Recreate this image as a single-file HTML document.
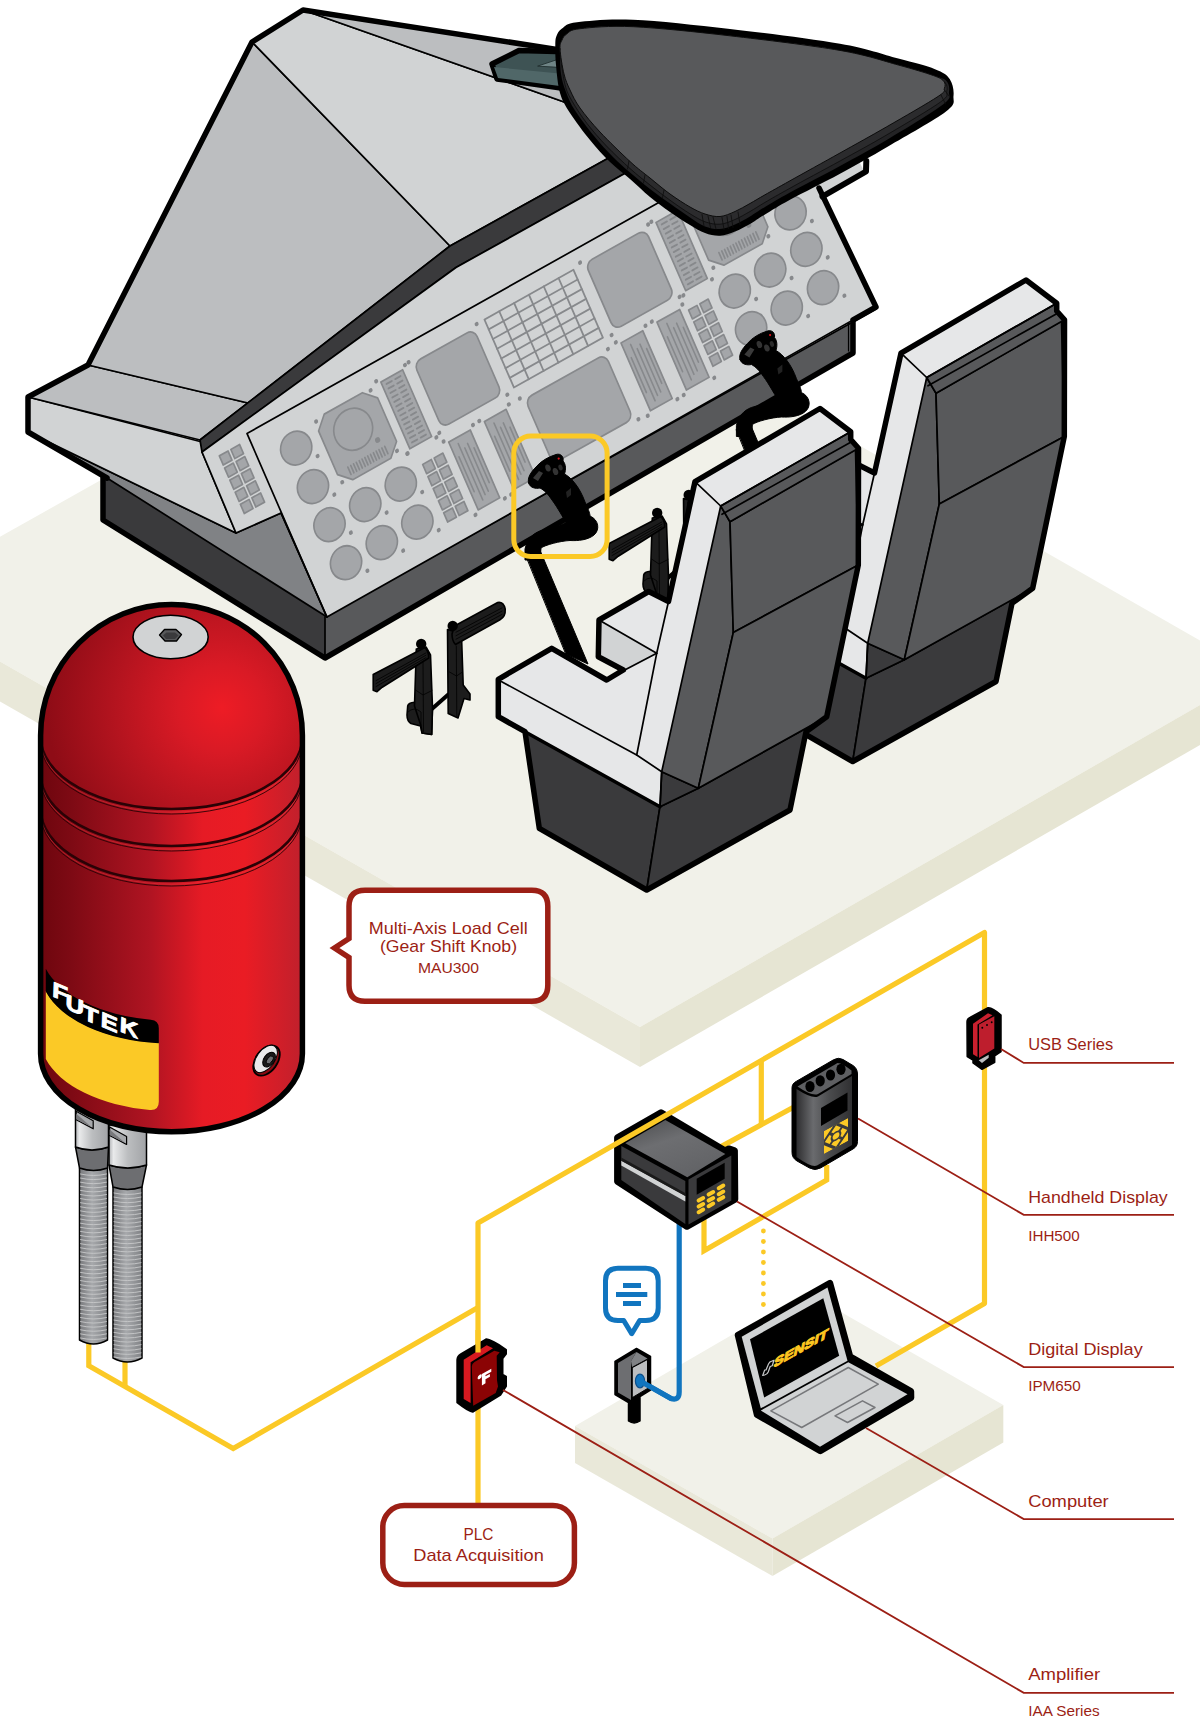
<!DOCTYPE html>
<html><head><meta charset="utf-8"><title>Multi-Axis Load Cell - Flight Simulator</title>
<style>
html,body{margin:0;padding:0;background:#fff;}
body{width:1200px;height:1728px;overflow:hidden;font-family:"Liberation Sans",sans-serif;}
svg{display:block;}
text{font-family:"Liberation Sans",sans-serif;}
</style></head><body>
<svg width="1200" height="1728" viewBox="0 0 1200 1728" stroke-linejoin="round" stroke-linecap="round">
<g id="floor">
<polygon points="0.0,536.8 514.0,247.6 856.0,443.5 1200.0,640.6 1200.0,705.0 640.0,1027.0 0.0,661.5" fill="#f1f1e9" stroke="none" stroke-width="0" />
<polygon points="0.0,661.5 640.0,1027.0 640.0,1067.0 0.0,701.5" fill="#e9e8d9" stroke="none" stroke-width="0" />
<polygon points="640.0,1027.0 1200.0,705.0 1200.0,745.0 640.0,1067.0" fill="#e6e5d3" stroke="none" stroke-width="0" />
</g>
<g id="cockpit">
<polygon points="103.0,474.0 328.0,613.0 325.0,658.0 103.0,520.0" fill="#3a3a3c" stroke="#000" stroke-width="1.7" />
<polygon points="325.0,617.0 876.0,309.0 853.0,320.0 853.0,352.0 325.0,658.0" fill="#58595b" stroke="#000" stroke-width="1.7" />
<polyline points="848.5,323.0 848.5,351.0" fill="none" stroke="#000" stroke-width="1.2" />
<polyline points="103.0,478.0 103.0,520.0 325.0,658.0 853.0,353.0 853.0,322.0" fill="none" stroke="#000" stroke-width="5.5" />
<polygon points="28.0,432.0 107.0,478.0 327.0,617.0 281.0,513.0 236.0,533.0" fill="#808285" stroke="#000" stroke-width="1.7" />
<polygon points="28.0,397.0 202.0,442.0 202.0,452.0 236.0,533.0 28.0,432.0" fill="#d1d3d4" stroke="#000" stroke-width="1.7" />
<polygon points="88.0,365.0 248.0,403.0 200.0,440.0 28.0,397.0" fill="#bcbec0" stroke="#000" stroke-width="1.7" />
<polygon points="252.0,42.0 450.0,246.0 248.0,403.0 88.0,365.0" fill="#bcbec0" stroke="#000" stroke-width="1.7" />
<polygon points="252.0,42.0 303.0,10.0 567.0,103.0 640.0,140.0 605.0,160.0 450.0,246.0" fill="#d1d3d4" stroke="#000" stroke-width="1.7" />
<polygon points="303.0,10.0 560.0,50.0 600.0,110.0 567.0,103.0" fill="#bcbec0" stroke="#000" stroke-width="1.7" />
<polygon points="200.0,440.0 450.0,246.0 605.0,160.0 660.0,130.0 680.0,143.0 622.0,175.0 456.0,267.5 202.0,452.0" fill="#3a3a3c" stroke="#000" stroke-width="1.7" />
<polygon points="202.0,452.0 456.0,267.5 622.0,175.0 760.0,100.0 796.0,125.0 819.0,188.0 876.0,307.0 327.0,617.0 281.0,513.0 236.0,533.0" fill="#d1d3d4" stroke="#000" stroke-width="1.7" />
<polygon points="815.0,181.0 857.0,157.0 863.5,170.0 822.5,195.0" fill="#d1d3d4" stroke="none" stroke-width="0" />
<polyline points="822.5,196.5 866.0,171.5 866.3,161.0" fill="none" stroke="#000" stroke-width="6" />
<polyline points="107.0,478.0 28.0,432.0 28.0,397.0 88.0,365.0 252.0,42.0 303.0,10.0 560.0,50.0" fill="none" stroke="#000" stroke-width="5.5" />
<polyline points="819.0,188.0 876.0,307.0 853.0,320.0" fill="none" stroke="#000" stroke-width="5.5" />
</g>
<g id="panel" transform="matrix(0.87213,-0.48928,0.39873,0.91707,247,433.5)">
<polyline points="630,0 0,0 0,200" fill="none" stroke="#000" stroke-width="1.7"/>
<circle cx="39.5" cy="37.0" r="16.3" fill="#a4a6a9" stroke="#87898c" stroke-width="1.7"/>
<circle cx="56.0" cy="54.5" r="2.1" fill="#87898c"/>
<circle cx="39.5" cy="79.0" r="16.3" fill="#a4a6a9" stroke="#87898c" stroke-width="1.7"/>
<circle cx="56.0" cy="96.5" r="2.1" fill="#87898c"/>
<circle cx="39.5" cy="120.5" r="16.3" fill="#a4a6a9" stroke="#87898c" stroke-width="1.7"/>
<circle cx="56.0" cy="138.0" r="2.1" fill="#87898c"/>
<circle cx="39.5" cy="162.0" r="16.3" fill="#a4a6a9" stroke="#87898c" stroke-width="1.7"/>
<circle cx="56.0" cy="179.5" r="2.1" fill="#87898c"/>
<circle cx="80.5" cy="120.5" r="16.3" fill="#a4a6a9" stroke="#87898c" stroke-width="1.7"/>
<circle cx="97.0" cy="138.0" r="2.1" fill="#87898c"/>
<circle cx="80.5" cy="162.0" r="16.3" fill="#a4a6a9" stroke="#87898c" stroke-width="1.7"/>
<circle cx="97.0" cy="179.5" r="2.1" fill="#87898c"/>
<circle cx="121.5" cy="120.0" r="16.3" fill="#a4a6a9" stroke="#87898c" stroke-width="1.7"/>
<circle cx="138.0" cy="137.5" r="2.1" fill="#87898c"/>
<circle cx="121.5" cy="161.5" r="16.3" fill="#a4a6a9" stroke="#87898c" stroke-width="1.7"/>
<circle cx="138.0" cy="179.0" r="2.1" fill="#87898c"/>
<polygon points="79.0,21.0 122.7,21.0 134.7,33.0 134.7,80.5 122.7,92.5 79.0,92.5 67.0,80.5 67.0,33.0" fill="#a4a6a9" stroke="#87898c" stroke-width="1.7"/>
<circle cx="99.6" cy="48.5" r="20.3" fill="none" stroke="#87898c" stroke-width="1.7"/>
<circle cx="117.8" cy="70.0" r="2.7" fill="#87898c"/>
<line x1="79.5" y1="79.0" x2="79.5" y2="87.0" stroke="#87898c" stroke-width="1.7" stroke-linecap="round"/>
<line x1="82.8" y1="79.0" x2="82.8" y2="87.0" stroke="#87898c" stroke-width="1.7" stroke-linecap="round"/>
<line x1="86.0" y1="79.0" x2="86.0" y2="87.0" stroke="#87898c" stroke-width="1.7" stroke-linecap="round"/>
<line x1="89.2" y1="79.0" x2="89.2" y2="87.0" stroke="#87898c" stroke-width="1.7" stroke-linecap="round"/>
<line x1="92.5" y1="79.0" x2="92.5" y2="87.0" stroke="#87898c" stroke-width="1.7" stroke-linecap="round"/>
<line x1="95.8" y1="79.0" x2="95.8" y2="87.0" stroke="#87898c" stroke-width="1.7" stroke-linecap="round"/>
<line x1="99.0" y1="79.0" x2="99.0" y2="87.0" stroke="#87898c" stroke-width="1.7" stroke-linecap="round"/>
<line x1="102.2" y1="79.0" x2="102.2" y2="87.0" stroke="#87898c" stroke-width="1.7" stroke-linecap="round"/>
<line x1="105.5" y1="79.0" x2="105.5" y2="87.0" stroke="#87898c" stroke-width="1.7" stroke-linecap="round"/>
<line x1="108.8" y1="79.0" x2="108.8" y2="87.0" stroke="#87898c" stroke-width="1.7" stroke-linecap="round"/>
<line x1="112.0" y1="79.0" x2="112.0" y2="87.0" stroke="#87898c" stroke-width="1.7" stroke-linecap="round"/>
<line x1="115.2" y1="79.0" x2="115.2" y2="87.0" stroke="#87898c" stroke-width="1.7" stroke-linecap="round"/>
<line x1="118.5" y1="79.0" x2="118.5" y2="87.0" stroke="#87898c" stroke-width="1.7" stroke-linecap="round"/>
<line x1="121.8" y1="79.0" x2="121.8" y2="87.0" stroke="#87898c" stroke-width="1.7" stroke-linecap="round"/>
<circle cx="68.5" cy="23.5" r="2.1" fill="#87898c"/>
<circle cx="131.2" cy="23.0" r="2.1" fill="#87898c"/>
<circle cx="68.3" cy="89.5" r="2.1" fill="#87898c"/>
<circle cx="131.3" cy="89.0" r="2.1" fill="#87898c"/>
<circle cx="139.7" cy="96.5" r="2.1" fill="#87898c"/>
<rect x="144.0" y="20.7" width="25.0" height="72.8" fill="#a4a6a9" stroke="#87898c" stroke-width="1.7"/>
<line x1="148.5" y1="25.2" x2="154.5" y2="25.2" stroke="#87898c" stroke-width="1.9" stroke-linecap="round"/>
<line x1="158.5" y1="25.2" x2="164.5" y2="25.2" stroke="#87898c" stroke-width="1.9" stroke-linecap="round"/>
<line x1="148.5" y1="30.1" x2="154.5" y2="30.1" stroke="#87898c" stroke-width="1.9" stroke-linecap="round"/>
<line x1="158.5" y1="30.1" x2="164.5" y2="30.1" stroke="#87898c" stroke-width="1.9" stroke-linecap="round"/>
<line x1="148.5" y1="35.0" x2="154.5" y2="35.0" stroke="#87898c" stroke-width="1.9" stroke-linecap="round"/>
<line x1="158.5" y1="35.0" x2="164.5" y2="35.0" stroke="#87898c" stroke-width="1.9" stroke-linecap="round"/>
<line x1="148.5" y1="39.9" x2="154.5" y2="39.9" stroke="#87898c" stroke-width="1.9" stroke-linecap="round"/>
<line x1="158.5" y1="39.9" x2="164.5" y2="39.9" stroke="#87898c" stroke-width="1.9" stroke-linecap="round"/>
<line x1="148.5" y1="44.8" x2="154.5" y2="44.8" stroke="#87898c" stroke-width="1.9" stroke-linecap="round"/>
<line x1="158.5" y1="44.8" x2="164.5" y2="44.8" stroke="#87898c" stroke-width="1.9" stroke-linecap="round"/>
<line x1="148.5" y1="49.7" x2="154.5" y2="49.7" stroke="#87898c" stroke-width="1.9" stroke-linecap="round"/>
<line x1="158.5" y1="49.7" x2="164.5" y2="49.7" stroke="#87898c" stroke-width="1.9" stroke-linecap="round"/>
<line x1="148.5" y1="54.6" x2="154.5" y2="54.6" stroke="#87898c" stroke-width="1.9" stroke-linecap="round"/>
<line x1="158.5" y1="54.6" x2="164.5" y2="54.6" stroke="#87898c" stroke-width="1.9" stroke-linecap="round"/>
<line x1="148.5" y1="59.6" x2="154.5" y2="59.6" stroke="#87898c" stroke-width="1.9" stroke-linecap="round"/>
<line x1="158.5" y1="59.6" x2="164.5" y2="59.6" stroke="#87898c" stroke-width="1.9" stroke-linecap="round"/>
<line x1="148.5" y1="64.5" x2="154.5" y2="64.5" stroke="#87898c" stroke-width="1.9" stroke-linecap="round"/>
<line x1="158.5" y1="64.5" x2="164.5" y2="64.5" stroke="#87898c" stroke-width="1.9" stroke-linecap="round"/>
<line x1="148.5" y1="69.4" x2="154.5" y2="69.4" stroke="#87898c" stroke-width="1.9" stroke-linecap="round"/>
<line x1="158.5" y1="69.4" x2="164.5" y2="69.4" stroke="#87898c" stroke-width="1.9" stroke-linecap="round"/>
<line x1="148.5" y1="74.3" x2="154.5" y2="74.3" stroke="#87898c" stroke-width="1.9" stroke-linecap="round"/>
<line x1="158.5" y1="74.3" x2="164.5" y2="74.3" stroke="#87898c" stroke-width="1.9" stroke-linecap="round"/>
<line x1="148.5" y1="79.2" x2="154.5" y2="79.2" stroke="#87898c" stroke-width="1.9" stroke-linecap="round"/>
<line x1="158.5" y1="79.2" x2="164.5" y2="79.2" stroke="#87898c" stroke-width="1.9" stroke-linecap="round"/>
<line x1="148.5" y1="84.1" x2="154.5" y2="84.1" stroke="#87898c" stroke-width="1.9" stroke-linecap="round"/>
<line x1="158.5" y1="84.1" x2="164.5" y2="84.1" stroke="#87898c" stroke-width="1.9" stroke-linecap="round"/>
<line x1="148.5" y1="89.0" x2="154.5" y2="89.0" stroke="#87898c" stroke-width="1.9" stroke-linecap="round"/>
<line x1="158.5" y1="89.0" x2="164.5" y2="89.0" stroke="#87898c" stroke-width="1.9" stroke-linecap="round"/>
<circle cx="140.0" cy="17.7" r="2.1" fill="#87898c"/>
<circle cx="173.0" cy="17.7" r="2.1" fill="#87898c"/>
<circle cx="140.0" cy="96.5" r="2.1" fill="#87898c"/>
<circle cx="173.0" cy="96.5" r="2.1" fill="#87898c"/>
<rect x="149.5" y="113.5" width="10.0" height="10.0" fill="#a4a6a9" stroke="#87898c" stroke-width="1.7"/>
<rect x="149.5" y="126.7" width="10.0" height="10.0" fill="#a4a6a9" stroke="#87898c" stroke-width="1.7"/>
<rect x="149.5" y="139.9" width="10.0" height="10.0" fill="#a4a6a9" stroke="#87898c" stroke-width="1.7"/>
<rect x="149.5" y="153.1" width="10.0" height="10.0" fill="#a4a6a9" stroke="#87898c" stroke-width="1.7"/>
<rect x="149.5" y="166.3" width="10.0" height="10.0" fill="#a4a6a9" stroke="#87898c" stroke-width="1.7"/>
<rect x="162.7" y="113.5" width="10.0" height="10.0" fill="#a4a6a9" stroke="#87898c" stroke-width="1.7"/>
<rect x="162.7" y="126.7" width="10.0" height="10.0" fill="#a4a6a9" stroke="#87898c" stroke-width="1.7"/>
<rect x="162.7" y="139.9" width="10.0" height="10.0" fill="#a4a6a9" stroke="#87898c" stroke-width="1.7"/>
<rect x="162.7" y="153.1" width="10.0" height="10.0" fill="#a4a6a9" stroke="#87898c" stroke-width="1.7"/>
<rect x="162.7" y="166.3" width="10.0" height="10.0" fill="#a4a6a9" stroke="#87898c" stroke-width="1.7"/>
<rect x="-34.5" y="6.0" width="10.0" height="10.0" fill="#a4a6a9" stroke="#87898c" stroke-width="1.7"/>
<rect x="-34.5" y="19.2" width="10.0" height="10.0" fill="#a4a6a9" stroke="#87898c" stroke-width="1.7"/>
<rect x="-34.5" y="32.4" width="10.0" height="10.0" fill="#a4a6a9" stroke="#87898c" stroke-width="1.7"/>
<rect x="-34.5" y="45.6" width="10.0" height="10.0" fill="#a4a6a9" stroke="#87898c" stroke-width="1.7"/>
<rect x="-34.5" y="58.8" width="10.0" height="10.0" fill="#a4a6a9" stroke="#87898c" stroke-width="1.7"/>
<rect x="-21.3" y="6.0" width="10.0" height="10.0" fill="#a4a6a9" stroke="#87898c" stroke-width="1.7"/>
<rect x="-21.3" y="19.2" width="10.0" height="10.0" fill="#a4a6a9" stroke="#87898c" stroke-width="1.7"/>
<rect x="-21.3" y="32.4" width="10.0" height="10.0" fill="#a4a6a9" stroke="#87898c" stroke-width="1.7"/>
<rect x="-21.3" y="45.6" width="10.0" height="10.0" fill="#a4a6a9" stroke="#87898c" stroke-width="1.7"/>
<rect x="-21.3" y="58.8" width="10.0" height="10.0" fill="#a4a6a9" stroke="#87898c" stroke-width="1.7"/>
<rect x="182.0" y="20.0" width="69.0" height="71.0" rx="8.0" fill="#a4a6a9" stroke="#87898c" stroke-width="1.7"/>
<circle cx="177.5" cy="17.0" r="2.1" fill="#87898c"/>
<circle cx="255.5" cy="17.0" r="2.1" fill="#87898c"/>
<circle cx="177.5" cy="94.0" r="2.1" fill="#87898c"/>
<circle cx="255.5" cy="94.0" r="2.1" fill="#87898c"/>
<rect x="182.5" y="106.7" width="24.7" height="74.0" fill="#a4a6a9" stroke="#87898c" stroke-width="1.7"/>
<line x1="186.1" y1="124.7" x2="186.1" y2="162.7" stroke="#87898c" stroke-width="1.6" stroke-linecap="round"/>
<line x1="190.7" y1="112.7" x2="190.7" y2="174.2" stroke="#87898c" stroke-width="1.6" stroke-linecap="round"/>
<line x1="195.0" y1="119.7" x2="195.0" y2="170.7" stroke="#87898c" stroke-width="1.6" stroke-linecap="round"/>
<line x1="199.3" y1="117.2" x2="199.3" y2="169.2" stroke="#87898c" stroke-width="1.6" stroke-linecap="round"/>
<line x1="203.6" y1="124.2" x2="203.6" y2="162.2" stroke="#87898c" stroke-width="1.6" stroke-linecap="round"/>
<circle cx="178.0" cy="103.7" r="2.1" fill="#87898c"/>
<circle cx="211.7" cy="103.7" r="2.1" fill="#87898c"/>
<circle cx="178.0" cy="183.7" r="2.1" fill="#87898c"/>
<circle cx="211.7" cy="183.7" r="2.1" fill="#87898c"/>
<rect x="223.6" y="106.3" width="24.9" height="74.0" fill="#a4a6a9" stroke="#87898c" stroke-width="1.7"/>
<line x1="227.2" y1="124.3" x2="227.2" y2="162.3" stroke="#87898c" stroke-width="1.6" stroke-linecap="round"/>
<line x1="231.9" y1="112.3" x2="231.9" y2="173.8" stroke="#87898c" stroke-width="1.6" stroke-linecap="round"/>
<line x1="236.2" y1="119.3" x2="236.2" y2="170.3" stroke="#87898c" stroke-width="1.6" stroke-linecap="round"/>
<line x1="240.5" y1="116.8" x2="240.5" y2="168.8" stroke="#87898c" stroke-width="1.6" stroke-linecap="round"/>
<line x1="244.9" y1="123.8" x2="244.9" y2="161.8" stroke="#87898c" stroke-width="1.6" stroke-linecap="round"/>
<circle cx="219.1" cy="103.3" r="2.1" fill="#87898c"/>
<circle cx="253.0" cy="103.3" r="2.1" fill="#87898c"/>
<circle cx="219.1" cy="183.3" r="2.1" fill="#87898c"/>
<circle cx="253.0" cy="183.3" r="2.1" fill="#87898c"/>
<g fill="none" stroke="#87898c" stroke-width="1.8">
<rect x="264.5" y="17" width="102" height="74"/>
<line x1="281.5" y1="17" x2="281.5" y2="91"/>
<line x1="298.5" y1="17" x2="298.5" y2="91"/>
<line x1="315.5" y1="17" x2="315.5" y2="91"/>
<line x1="332.5" y1="17" x2="332.5" y2="91"/>
<line x1="349.5" y1="17" x2="349.5" y2="91"/>
<line x1="264.5" y1="27.6" x2="366.5" y2="27.6"/>
<line x1="264.5" y1="38.1" x2="366.5" y2="38.1"/>
<line x1="264.5" y1="48.7" x2="366.5" y2="48.7"/>
<line x1="264.5" y1="59.3" x2="366.5" y2="59.3"/>
<line x1="264.5" y1="69.9" x2="366.5" y2="69.9"/>
<line x1="264.5" y1="80.4" x2="366.5" y2="80.4"/>
</g>
<rect x="270.0" y="106.5" width="92.0" height="70.5" rx="8.0" fill="#a4a6a9" stroke="#87898c" stroke-width="1.7"/>
<circle cx="265.5" cy="103.5" r="2.1" fill="#87898c"/>
<circle cx="366.5" cy="103.5" r="2.1" fill="#87898c"/>
<circle cx="265.5" cy="180.0" r="2.1" fill="#87898c"/>
<circle cx="366.5" cy="180.0" r="2.1" fill="#87898c"/>
<rect x="380.0" y="17.0" width="69.0" height="73.0" rx="8.0" fill="#a4a6a9" stroke="#87898c" stroke-width="1.7"/>
<circle cx="375.5" cy="14.0" r="2.1" fill="#87898c"/>
<circle cx="453.5" cy="14.0" r="2.1" fill="#87898c"/>
<circle cx="375.5" cy="93.0" r="2.1" fill="#87898c"/>
<circle cx="453.5" cy="93.0" r="2.1" fill="#87898c"/>
<rect x="461.6" y="16.2" width="24.8" height="74.3" fill="#a4a6a9" stroke="#87898c" stroke-width="1.7"/>
<line x1="466.1" y1="20.7" x2="472.1" y2="20.7" stroke="#87898c" stroke-width="1.9" stroke-linecap="round"/>
<line x1="475.9" y1="20.7" x2="481.9" y2="20.7" stroke="#87898c" stroke-width="1.9" stroke-linecap="round"/>
<line x1="466.1" y1="25.7" x2="472.1" y2="25.7" stroke="#87898c" stroke-width="1.9" stroke-linecap="round"/>
<line x1="475.9" y1="25.7" x2="481.9" y2="25.7" stroke="#87898c" stroke-width="1.9" stroke-linecap="round"/>
<line x1="466.1" y1="30.7" x2="472.1" y2="30.7" stroke="#87898c" stroke-width="1.9" stroke-linecap="round"/>
<line x1="475.9" y1="30.7" x2="481.9" y2="30.7" stroke="#87898c" stroke-width="1.9" stroke-linecap="round"/>
<line x1="466.1" y1="35.8" x2="472.1" y2="35.8" stroke="#87898c" stroke-width="1.9" stroke-linecap="round"/>
<line x1="475.9" y1="35.8" x2="481.9" y2="35.8" stroke="#87898c" stroke-width="1.9" stroke-linecap="round"/>
<line x1="466.1" y1="40.8" x2="472.1" y2="40.8" stroke="#87898c" stroke-width="1.9" stroke-linecap="round"/>
<line x1="475.9" y1="40.8" x2="481.9" y2="40.8" stroke="#87898c" stroke-width="1.9" stroke-linecap="round"/>
<line x1="466.1" y1="45.8" x2="472.1" y2="45.8" stroke="#87898c" stroke-width="1.9" stroke-linecap="round"/>
<line x1="475.9" y1="45.8" x2="481.9" y2="45.8" stroke="#87898c" stroke-width="1.9" stroke-linecap="round"/>
<line x1="466.1" y1="50.8" x2="472.1" y2="50.8" stroke="#87898c" stroke-width="1.9" stroke-linecap="round"/>
<line x1="475.9" y1="50.8" x2="481.9" y2="50.8" stroke="#87898c" stroke-width="1.9" stroke-linecap="round"/>
<line x1="466.1" y1="55.9" x2="472.1" y2="55.9" stroke="#87898c" stroke-width="1.9" stroke-linecap="round"/>
<line x1="475.9" y1="55.9" x2="481.9" y2="55.9" stroke="#87898c" stroke-width="1.9" stroke-linecap="round"/>
<line x1="466.1" y1="60.9" x2="472.1" y2="60.9" stroke="#87898c" stroke-width="1.9" stroke-linecap="round"/>
<line x1="475.9" y1="60.9" x2="481.9" y2="60.9" stroke="#87898c" stroke-width="1.9" stroke-linecap="round"/>
<line x1="466.1" y1="65.9" x2="472.1" y2="65.9" stroke="#87898c" stroke-width="1.9" stroke-linecap="round"/>
<line x1="475.9" y1="65.9" x2="481.9" y2="65.9" stroke="#87898c" stroke-width="1.9" stroke-linecap="round"/>
<line x1="466.1" y1="70.9" x2="472.1" y2="70.9" stroke="#87898c" stroke-width="1.9" stroke-linecap="round"/>
<line x1="475.9" y1="70.9" x2="481.9" y2="70.9" stroke="#87898c" stroke-width="1.9" stroke-linecap="round"/>
<line x1="466.1" y1="76.0" x2="472.1" y2="76.0" stroke="#87898c" stroke-width="1.9" stroke-linecap="round"/>
<line x1="475.9" y1="76.0" x2="481.9" y2="76.0" stroke="#87898c" stroke-width="1.9" stroke-linecap="round"/>
<line x1="466.1" y1="81.0" x2="472.1" y2="81.0" stroke="#87898c" stroke-width="1.9" stroke-linecap="round"/>
<line x1="475.9" y1="81.0" x2="481.9" y2="81.0" stroke="#87898c" stroke-width="1.9" stroke-linecap="round"/>
<line x1="466.1" y1="86.0" x2="472.1" y2="86.0" stroke="#87898c" stroke-width="1.9" stroke-linecap="round"/>
<line x1="475.9" y1="86.0" x2="481.9" y2="86.0" stroke="#87898c" stroke-width="1.9" stroke-linecap="round"/>
<circle cx="457.6" cy="13.2" r="2.1" fill="#87898c"/>
<circle cx="490.4" cy="13.2" r="2.1" fill="#87898c"/>
<circle cx="457.6" cy="93.5" r="2.1" fill="#87898c"/>
<circle cx="490.4" cy="93.5" r="2.1" fill="#87898c"/>
<rect x="381.0" y="104.5" width="25.0" height="74.0" fill="#a4a6a9" stroke="#87898c" stroke-width="1.7"/>
<line x1="384.6" y1="122.5" x2="384.6" y2="160.5" stroke="#87898c" stroke-width="1.6" stroke-linecap="round"/>
<line x1="389.3" y1="110.5" x2="389.3" y2="172.0" stroke="#87898c" stroke-width="1.6" stroke-linecap="round"/>
<line x1="393.7" y1="117.5" x2="393.7" y2="168.5" stroke="#87898c" stroke-width="1.6" stroke-linecap="round"/>
<line x1="398.0" y1="115.0" x2="398.0" y2="167.0" stroke="#87898c" stroke-width="1.6" stroke-linecap="round"/>
<line x1="402.4" y1="122.0" x2="402.4" y2="160.0" stroke="#87898c" stroke-width="1.6" stroke-linecap="round"/>
<circle cx="376.5" cy="101.5" r="2.1" fill="#87898c"/>
<circle cx="410.5" cy="101.5" r="2.1" fill="#87898c"/>
<circle cx="376.5" cy="181.5" r="2.1" fill="#87898c"/>
<circle cx="410.5" cy="181.5" r="2.1" fill="#87898c"/>
<rect x="422.5" y="104.0" width="26.0" height="74.0" fill="#a4a6a9" stroke="#87898c" stroke-width="1.7"/>
<line x1="426.3" y1="122.0" x2="426.3" y2="160.0" stroke="#87898c" stroke-width="1.6" stroke-linecap="round"/>
<line x1="431.1" y1="110.0" x2="431.1" y2="171.5" stroke="#87898c" stroke-width="1.6" stroke-linecap="round"/>
<line x1="435.7" y1="117.0" x2="435.7" y2="168.0" stroke="#87898c" stroke-width="1.6" stroke-linecap="round"/>
<line x1="440.2" y1="114.5" x2="440.2" y2="166.5" stroke="#87898c" stroke-width="1.6" stroke-linecap="round"/>
<line x1="444.7" y1="121.5" x2="444.7" y2="159.5" stroke="#87898c" stroke-width="1.6" stroke-linecap="round"/>
<circle cx="418.0" cy="101.0" r="2.1" fill="#87898c"/>
<circle cx="453.0" cy="101.0" r="2.1" fill="#87898c"/>
<circle cx="418.0" cy="181.0" r="2.1" fill="#87898c"/>
<circle cx="453.0" cy="181.0" r="2.1" fill="#87898c"/>
<rect x="456.5" y="109.0" width="9.6" height="9.6" fill="#a4a6a9" stroke="#87898c" stroke-width="1.7"/>
<rect x="456.5" y="121.9" width="9.6" height="9.6" fill="#a4a6a9" stroke="#87898c" stroke-width="1.7"/>
<rect x="456.5" y="134.8" width="9.6" height="9.6" fill="#a4a6a9" stroke="#87898c" stroke-width="1.7"/>
<rect x="456.5" y="147.7" width="9.6" height="9.6" fill="#a4a6a9" stroke="#87898c" stroke-width="1.7"/>
<rect x="456.5" y="160.6" width="9.6" height="9.6" fill="#a4a6a9" stroke="#87898c" stroke-width="1.7"/>
<rect x="469.4" y="109.0" width="9.6" height="9.6" fill="#a4a6a9" stroke="#87898c" stroke-width="1.7"/>
<rect x="469.4" y="121.9" width="9.6" height="9.6" fill="#a4a6a9" stroke="#87898c" stroke-width="1.7"/>
<rect x="469.4" y="134.8" width="9.6" height="9.6" fill="#a4a6a9" stroke="#87898c" stroke-width="1.7"/>
<rect x="469.4" y="147.7" width="9.6" height="9.6" fill="#a4a6a9" stroke="#87898c" stroke-width="1.7"/>
<rect x="469.4" y="160.6" width="9.6" height="9.6" fill="#a4a6a9" stroke="#87898c" stroke-width="1.7"/>
<polygon points="507.0,15.0 551.0,15.0 563.0,27.0 563.0,75.0 551.0,87.0 507.0,87.0 495.0,75.0 495.0,27.0" fill="#a4a6a9" stroke="#87898c" stroke-width="1.7"/>
<circle cx="527.8" cy="42.5" r="20.3" fill="none" stroke="#87898c" stroke-width="1.7"/>
<circle cx="546.0" cy="64.0" r="2.7" fill="#87898c"/>
<line x1="507.5" y1="73.5" x2="507.5" y2="81.5" stroke="#87898c" stroke-width="1.7" stroke-linecap="round"/>
<line x1="510.8" y1="73.5" x2="510.8" y2="81.5" stroke="#87898c" stroke-width="1.7" stroke-linecap="round"/>
<line x1="514.0" y1="73.5" x2="514.0" y2="81.5" stroke="#87898c" stroke-width="1.7" stroke-linecap="round"/>
<line x1="517.2" y1="73.5" x2="517.2" y2="81.5" stroke="#87898c" stroke-width="1.7" stroke-linecap="round"/>
<line x1="520.5" y1="73.5" x2="520.5" y2="81.5" stroke="#87898c" stroke-width="1.7" stroke-linecap="round"/>
<line x1="523.8" y1="73.5" x2="523.8" y2="81.5" stroke="#87898c" stroke-width="1.7" stroke-linecap="round"/>
<line x1="527.0" y1="73.5" x2="527.0" y2="81.5" stroke="#87898c" stroke-width="1.7" stroke-linecap="round"/>
<line x1="530.2" y1="73.5" x2="530.2" y2="81.5" stroke="#87898c" stroke-width="1.7" stroke-linecap="round"/>
<line x1="533.5" y1="73.5" x2="533.5" y2="81.5" stroke="#87898c" stroke-width="1.7" stroke-linecap="round"/>
<line x1="536.8" y1="73.5" x2="536.8" y2="81.5" stroke="#87898c" stroke-width="1.7" stroke-linecap="round"/>
<line x1="540.0" y1="73.5" x2="540.0" y2="81.5" stroke="#87898c" stroke-width="1.7" stroke-linecap="round"/>
<line x1="543.2" y1="73.5" x2="543.2" y2="81.5" stroke="#87898c" stroke-width="1.7" stroke-linecap="round"/>
<line x1="546.5" y1="73.5" x2="546.5" y2="81.5" stroke="#87898c" stroke-width="1.7" stroke-linecap="round"/>
<line x1="549.8" y1="73.5" x2="549.8" y2="81.5" stroke="#87898c" stroke-width="1.7" stroke-linecap="round"/>
<circle cx="496.5" cy="17.5" r="2.1" fill="#87898c"/>
<circle cx="559.5" cy="17.0" r="2.1" fill="#87898c"/>
<circle cx="496.3" cy="84.0" r="2.1" fill="#87898c"/>
<circle cx="559.6" cy="83.5" r="2.1" fill="#87898c"/>
<circle cx="506.7" cy="115.0" r="16.3" fill="#a4a6a9" stroke="#87898c" stroke-width="1.7"/>
<circle cx="523.2" cy="132.5" r="2.1" fill="#87898c"/>
<circle cx="506.7" cy="156.0" r="16.3" fill="#a4a6a9" stroke="#87898c" stroke-width="1.7"/>
<circle cx="523.2" cy="173.5" r="2.1" fill="#87898c"/>
<circle cx="547.8" cy="114.0" r="16.3" fill="#a4a6a9" stroke="#87898c" stroke-width="1.7"/>
<circle cx="564.3" cy="131.5" r="2.1" fill="#87898c"/>
<circle cx="547.8" cy="155.5" r="16.3" fill="#a4a6a9" stroke="#87898c" stroke-width="1.7"/>
<circle cx="564.3" cy="173.0" r="2.1" fill="#87898c"/>
<circle cx="589.4" cy="113.7" r="16.3" fill="#a4a6a9" stroke="#87898c" stroke-width="1.7"/>
<circle cx="605.9" cy="131.2" r="2.1" fill="#87898c"/>
<circle cx="589.4" cy="155.5" r="16.3" fill="#a4a6a9" stroke="#87898c" stroke-width="1.7"/>
<circle cx="605.9" cy="173.0" r="2.1" fill="#87898c"/>
<circle cx="589.4" cy="74.0" r="16.3" fill="#a4a6a9" stroke="#87898c" stroke-width="1.7"/>
<circle cx="605.9" cy="91.5" r="2.1" fill="#87898c"/>
<circle cx="589.4" cy="32.5" r="16.3" fill="#a4a6a9" stroke="#87898c" stroke-width="1.7"/>
<circle cx="605.9" cy="50.0" r="2.1" fill="#87898c"/>
</g>
<g id="overhead">
<polygon points="492.0,64.0 519.0,50.5 575.0,52.0 575.0,90.0 497.0,79.0" fill="#3e5354" stroke="#000" stroke-width="5.5" />
<polygon points="494.0,67.0 575.0,75.0 575.0,88.0 498.0,78.0" fill="#506768" stroke="none" stroke-width="0" />
<polygon points="538.0,66.0 556.0,60.0 575.0,60.0 575.0,68.0" fill="#6f8586" stroke="#1d2b2b" stroke-width="0.8" />
<path d="M555.3,45.0 C555.4,40.2 555.4,38.8 556.5,36.0 C557.6,33.2 558.6,30.8 562.0,28.5 C565.4,26.2 565.2,23.7 577.0,22.2 C588.8,20.7 607.5,18.6 633.0,19.7 C658.5,20.8 695.5,25.0 730.0,29.0 C764.5,33.0 812.0,38.9 840.0,43.8 C868.0,48.7 882.5,54.4 898.3,58.6 C914.1,62.8 926.4,65.8 935.0,69.2 C943.6,72.6 946.6,74.5 949.7,79.0 C952.8,83.5 954.1,90.6 953.5,96.0 C952.9,101.4 956.9,103.1 946.0,111.5 C935.1,119.9 905.7,136.1 888.0,146.5 C870.3,156.9 856.3,164.9 840.0,173.8 C823.7,182.7 802.5,193.0 790.0,199.8 C777.5,206.6 771.7,210.5 765.0,214.5 C758.3,218.5 755.0,221.2 750.0,224.0 C745.0,226.8 740.0,229.5 735.0,231.5 C730.0,233.5 725.0,235.6 720.0,235.8 C715.0,236.1 710.0,234.8 705.0,233.0 C700.0,231.2 695.8,228.5 690.0,225.0 C684.2,221.5 676.7,216.7 670.0,212.0 C663.3,207.3 656.7,202.5 650.0,197.0 C643.3,191.5 636.7,184.8 630.0,179.0 C623.3,173.2 616.7,168.5 610.0,162.0 C603.3,155.5 596.7,148.2 590.0,140.0 C583.3,131.8 575.0,120.8 570.0,113.0 C565.0,105.2 562.3,101.0 560.0,93.0 C557.7,85.0 556.8,73.0 556.0,65.0 C555.2,57.0 555.2,49.8 555.3,45.0 Z" fill="#000" stroke="none" stroke-width="0" />
<path d="M560.0,49.0 C560.2,43.3 560.9,42.5 562.0,40.0 C563.1,37.5 563.7,35.9 566.7,34.0 C569.7,32.1 568.9,29.9 580.0,28.7 C591.1,27.5 608.3,25.5 633.3,26.7 C658.3,27.9 695.5,31.8 730.0,35.8 C764.5,39.8 812.0,45.5 840.0,50.4 C868.0,55.3 882.8,60.8 898.3,65.0 C913.8,69.2 925.3,72.8 933.3,75.5 C941.3,78.2 943.9,78.2 946.5,81.0 C949.1,83.8 949.6,88.1 949.0,92.0 C948.4,95.9 953.2,96.6 943.0,104.5 C932.8,112.4 904.7,129.2 887.5,139.5 C870.3,149.8 856.2,157.2 840.0,166.0 C823.8,174.8 802.5,185.7 790.0,192.5 C777.5,199.3 771.7,203.0 765.0,207.0 C758.3,211.0 755.0,213.6 750.0,216.5 C745.0,219.4 740.0,222.4 735.0,224.5 C730.0,226.6 725.0,228.7 720.0,229.0 C715.0,229.3 710.0,228.4 705.0,226.5 C700.0,224.6 695.8,221.3 690.0,217.5 C684.2,213.7 676.7,208.2 670.0,203.5 C663.3,198.8 656.7,194.2 650.0,189.0 C643.3,183.8 636.2,177.8 630.0,172.5 C623.8,167.2 619.0,163.1 613.0,157.0 C607.0,150.9 600.3,143.8 594.0,136.0 C587.7,128.2 579.7,117.8 575.0,110.5 C570.3,103.2 568.3,98.1 566.0,92.0 C563.7,85.9 562.0,81.2 561.0,74.0 C560.0,66.8 559.8,54.7 560.0,49.0 Z" fill="#232325" stroke="none" stroke-width="0" />
<path d="M560.0,50.5 C559.5,43.3 560.9,44.0 562.0,41.5 C563.1,39.0 563.7,37.4 566.7,35.5 C569.7,33.6 568.9,31.4 580.0,30.2 C591.1,29.0 608.3,27.0 633.3,28.2 C658.3,29.4 695.5,33.3 730.0,37.3 C764.5,41.2 812.0,47.0 840.0,51.9 C868.0,56.8 882.8,62.3 898.3,66.5 C913.8,70.7 925.5,74.3 933.3,77.0 C941.1,79.7 942.9,80.2 945.1,82.7 C947.4,85.1 947.5,88.4 946.7,91.7 C945.9,94.9 950.4,94.8 940.5,102.0 C930.6,109.2 903.9,124.8 887.1,134.7 C870.4,144.5 856.2,152.1 840.0,161.0 C823.8,169.9 802.5,181.2 790.0,188.2 C777.5,195.1 771.7,198.5 765.0,202.4 C758.3,206.3 755.0,208.7 750.0,211.5 C745.0,214.3 740.0,217.4 735.0,219.5 C730.0,221.6 725.0,223.9 720.0,224.2 C715.0,224.6 710.0,223.5 705.0,221.8 C700.0,220.0 695.8,217.3 690.0,213.8 C684.2,210.2 676.7,205.0 670.0,200.2 C663.3,195.5 656.7,190.3 650.0,185.0 C643.3,179.7 637.2,175.0 630.0,168.5 C622.8,162.0 613.7,153.5 606.5,146.0 C599.3,138.5 592.7,130.9 587.0,123.5 C581.3,116.1 576.2,108.2 572.5,101.8 C568.8,95.2 567.1,93.0 565.0,84.5 C562.9,76.0 560.5,57.7 560.0,50.5 Z" fill="#2b2b2d" stroke="#0c0c0c" stroke-width="0.8" />
<path d="M560.0,49.0 C559.7,43.3 560.9,42.5 562.0,40.0 C563.1,37.5 563.7,35.9 566.7,34.0 C569.7,32.1 568.9,29.9 580.0,28.7 C591.1,27.5 608.3,25.5 633.3,26.7 C658.3,27.9 695.5,31.8 730.0,35.8 C764.5,39.8 812.0,45.5 840.0,50.4 C868.0,55.3 882.8,60.8 898.3,65.0 C913.8,69.2 925.7,72.8 933.3,75.5 C940.9,78.2 941.9,79.2 943.8,81.3 C945.6,83.4 945.4,85.8 944.4,88.3 C943.4,90.8 947.6,90.1 938.0,96.5 C928.4,102.9 903.0,117.4 886.7,126.8 C870.4,136.2 856.1,144.0 840.0,153.0 C823.9,162.0 802.5,173.8 790.0,180.8 C777.5,187.8 771.7,191.0 765.0,194.8 C758.3,198.6 755.0,200.7 750.0,203.5 C745.0,206.3 740.0,209.3 735.0,211.5 C730.0,213.7 725.0,216.1 720.0,216.5 C715.0,216.9 710.0,215.6 705.0,214.0 C700.0,212.4 695.8,210.3 690.0,207.0 C684.2,203.7 676.7,198.8 670.0,194.0 C663.3,189.2 656.7,183.4 650.0,178.0 C643.3,172.6 638.3,169.2 630.0,161.5 C621.7,153.8 608.3,140.9 600.0,132.0 C591.7,123.1 585.0,115.0 580.0,108.0 C575.0,101.0 572.7,95.7 570.0,90.0 C567.3,84.3 565.7,80.8 564.0,74.0 C562.3,67.2 560.3,54.7 560.0,49.0 Z" fill="#58595b" stroke="#0c0c0c" stroke-width="1" />
<line x1="702.0" y1="214.5" x2="704.0" y2="226.0" stroke="#0c0c0c" stroke-width="0.8"/>
<line x1="708.0" y1="216.0" x2="710.5" y2="227.5" stroke="#0c0c0c" stroke-width="0.8"/>
<line x1="713.0" y1="217.0" x2="716.0" y2="229.0" stroke="#0c0c0c" stroke-width="0.8"/>
<line x1="722.0" y1="217.5" x2="724.0" y2="229.5" stroke="#0c0c0c" stroke-width="0.8"/>
<line x1="727.0" y1="216.5" x2="728.5" y2="228.5" stroke="#0c0c0c" stroke-width="0.8"/>
<line x1="731.0" y1="215.0" x2="733.0" y2="227.5" stroke="#0c0c0c" stroke-width="0.8"/>
<line x1="738.0" y1="212.0" x2="740.0" y2="224.5" stroke="#0c0c0c" stroke-width="0.8"/>
<line x1="941.0" y1="95.0" x2="945.5" y2="104.0" stroke="#0c0c0c" stroke-width="0.8"/>
<line x1="944.5" y1="90.0" x2="949.0" y2="96.0" stroke="#0c0c0c" stroke-width="0.8"/>
<line x1="664.0" y1="190.0" x2="662.5" y2="197.5" stroke="#0c0c0c" stroke-width="0.8"/>
<line x1="645.0" y1="175.0" x2="643.5" y2="183.0" stroke="#0c0c0c" stroke-width="0.8"/>
<line x1="629.0" y1="161.0" x2="627.5" y2="169.0" stroke="#0c0c0c" stroke-width="0.8"/>
</g>
<g id="stage">
<g transform="translate(206,-128.5)">
<polygon points="695.0,481.7 820.0,408.5 850.7,431.7 850.7,439.5 858.5,448.3 858.3,565.0 826.7,716.7 806.0,731.7 790.0,810.0 646.7,890.0 539.3,828.3 525.0,731.7 498.3,716.7 498.3,679.3 551.7,648.3 606.7,680.0 623.3,670.0 598.3,656.7 599.0,620.0 648.7,591.5 668.5,601.5" fill="#e6e7e8" stroke="none" stroke-width="0" />
<polygon points="599.0,620.0 656.7,653.3 623.3,670.8 598.3,656.7" fill="#d1d3d4" stroke="#000" stroke-width="1.7" />
<polyline points="668.5,601.5 656.7,653.3" fill="none" stroke="#000" stroke-width="1.7" />
<polygon points="525.0,731.7 660.0,806.7 646.7,890.0 539.3,828.3" fill="#3a3a3c" stroke="#000" stroke-width="1.7" />
<polygon points="660.0,806.7 698.3,788.3 826.7,716.7 806.0,731.7 790.0,810.0 646.7,890.0" fill="#3a3a3c" stroke="#000" stroke-width="1.7" />
<polygon points="661.7,771.7 698.3,788.3 660.0,806.7" fill="#3a3a3c" stroke="#000" stroke-width="1.7" />
<polygon points="720.7,506.0 730.0,521.7 733.3,632.5 698.3,788.3 661.7,771.7" fill="#58595b" stroke="#000" stroke-width="1.7" />
<polygon points="730.0,521.7 855.5,449.5 858.3,565.0 733.3,632.5" fill="#58595b" stroke="#000" stroke-width="1.7" />
<polygon points="733.3,632.5 858.3,565.0 826.7,716.7 698.3,788.3" fill="#58595b" stroke="#000" stroke-width="1.7" />
<polygon points="720.7,506.0 850.7,431.7 850.7,439.5 858.5,448.3 730.0,521.7" fill="#58595b" stroke="#000" stroke-width="1.7" />
<polyline points="722.0,514.3 852.0,441.5" fill="none" stroke="#000" stroke-width="1.7" />
<polyline points="695.0,481.7 720.7,506.0 850.7,431.7" fill="none" stroke="#000" stroke-width="1.7" />
<polyline points="501.7,681.7 636.7,755.0 656.7,653.3" fill="none" stroke="#000" stroke-width="1.7" />
<polyline points="636.7,755.0 661.7,771.7 660.0,806.7" fill="none" stroke="#000" stroke-width="1.7" />
<polyline points="525.0,731.7 660.0,806.7" fill="none" stroke="#000" stroke-width="3.5" />
<polygon points="695.0,481.7 820.0,408.5 850.7,431.7 850.7,439.5 858.5,448.3 858.3,565.0 826.7,716.7 806.0,731.7 790.0,810.0 646.7,890.0 539.3,828.3 525.0,731.7 498.3,716.7 498.3,679.3 551.7,648.3 606.7,680.0 623.3,670.0 598.3,656.7 599.0,620.0 648.7,591.5 668.5,601.5" fill="none" stroke="#000" stroke-width="5.5" />
</g>
<g transform="translate(211.4,-123.5)">
<path d="M528.6,483 C527,478 531,472 536,467 C541,461 548,457 556,454.5 C561,453 564,457 563,461 C566,464 566,470 564.5,474 C572,478 580,488 585,502 C588,509 590,513 590,516 C599,520 600,530 594,535 C588,540 578,541 570,540.5 C560,541 545,545 541,548 L540,560 L525,560 L525,549 C527,540 532,534 540,531 C550,528 560,526 566,522 C563,518 558,508 552,500 C548,494 544,490 540,488 C536,489 530,488 528.6,483 Z" fill="#000" stroke="#000" stroke-width="1" />
<polygon points="525.0,553.0 539.5,549.0 588.0,664.0 566.0,654.0" fill="#000" stroke="#000" stroke-width="1" />
<polygon points="533.0,478.0 539.0,471.0 543.0,473.0 538.0,481.0" fill="#3a3a3a" stroke="none" stroke-width="0" />
<ellipse cx="548" cy="468" rx="2.6" ry="3.6" fill="#333" transform="rotate(-20 548 468)"/>
<ellipse cx="555.5" cy="471.5" rx="2.6" ry="3.6" fill="#333" transform="rotate(-20 555.5 471.5)"/>
<ellipse cx="560.5" cy="467.5" rx="2" ry="3" fill="#2a2a2a" transform="rotate(-20 560.5 467.5)"/>
<circle cx="558.7" cy="458.6" r="1.1" fill="#e0131a"/>
<polygon points="566.0,492.0 571.0,488.0 571.0,495.0 567.0,498.0" fill="#222" stroke="none" stroke-width="0" />
</g>
<g transform="translate(236,-131)">
<line x1="431" y1="709.7" x2="448" y2="694.7" stroke="#000" stroke-width="4"/>
<path d="M447.5,629.5 L448.2,713.5 L458,718 L464,698.5 L470,700 L470,694 L463.2,685 L461.7,641.5 L456,632 Z" fill="#1c1c1c" stroke="#000" stroke-width="1.6" />
<polyline points="449.5,672.0 456.5,676.0 462.5,672.0" fill="none" stroke="#000" stroke-width="0.8" />
<polyline points="456.3,646.0 456.8,716.0" fill="none" stroke="#000" stroke-width="0.8" />
<path d="M454.5,626 L497.7,602.5 Q503.5,601.5 505.2,609 Q505.8,616.5 500,619.7 L455.5,644.5 Q452,641 452,634 Z" fill="#1c1c1c" stroke="#000" stroke-width="1.6" />
<circle cx="452.7" cy="625.9" r="5.2" fill="#000"/>
<path d="M414.5,702.2 Q408.5,702.5 407.7,706 L407,715 Q407,721 411,723.5 L420.5,726 L422,733 L431.7,734.5 L432.5,707.5 Z" fill="#1c1c1c" stroke="#000" stroke-width="1.6" />
<path d="M416.3,649 L414.5,706 L421,726 L422,733 L431.7,734.5 L432.5,707.5 L430.5,655 L426,647 Z" fill="#1c1c1c" stroke="#000" stroke-width="1.6" />
<polyline points="415.5,690.0 423.0,695.0 432.0,690.5" fill="none" stroke="#000" stroke-width="0.8" />
<polyline points="423.0,660.0 423.5,732.0" fill="none" stroke="#000" stroke-width="0.8" />
<path d="M408,712 Q414,706 421,712 L421,725" fill="none" stroke="#000" stroke-width="0.8" />
<path d="M373.2,674.5 L424.5,647.8 Q428.5,650 428.7,658 L382.2,687.2 L377,691.7 L373.2,690.2 Z" fill="#1c1c1c" stroke="#000" stroke-width="1.6" />
<circle cx="421.2" cy="643.9" r="5.2" fill="#000"/>
<g stroke="#000" stroke-width="0.8" fill="none">
<line x1="376.0" y1="680.6" x2="426.0" y2="652.9"/>
<line x1="456.0" y1="632.2" x2="502.0" y2="607.9"/>
<line x1="376.0" y1="683.6" x2="426.0" y2="655.2"/>
<line x1="456.0" y1="635.7" x2="502.0" y2="611.1"/>
<line x1="376.0" y1="686.6" x2="426.0" y2="657.6"/>
<line x1="456.0" y1="639.2" x2="502.0" y2="614.4"/>
</g>
</g>
<line x1="431" y1="709.7" x2="448" y2="694.7" stroke="#000" stroke-width="4"/>
<path d="M447.5,629.5 L448.2,713.5 L458,718 L464,698.5 L470,700 L470,694 L463.2,685 L461.7,641.5 L456,632 Z" fill="#1c1c1c" stroke="#000" stroke-width="1.6" />
<polyline points="449.5,672.0 456.5,676.0 462.5,672.0" fill="none" stroke="#000" stroke-width="0.8" />
<polyline points="456.3,646.0 456.8,716.0" fill="none" stroke="#000" stroke-width="0.8" />
<path d="M454.5,626 L497.7,602.5 Q503.5,601.5 505.2,609 Q505.8,616.5 500,619.7 L455.5,644.5 Q452,641 452,634 Z" fill="#1c1c1c" stroke="#000" stroke-width="1.6" />
<circle cx="452.7" cy="625.9" r="5.2" fill="#000"/>
<path d="M414.5,702.2 Q408.5,702.5 407.7,706 L407,715 Q407,721 411,723.5 L420.5,726 L422,733 L431.7,734.5 L432.5,707.5 Z" fill="#1c1c1c" stroke="#000" stroke-width="1.6" />
<path d="M416.3,649 L414.5,706 L421,726 L422,733 L431.7,734.5 L432.5,707.5 L430.5,655 L426,647 Z" fill="#1c1c1c" stroke="#000" stroke-width="1.6" />
<polyline points="415.5,690.0 423.0,695.0 432.0,690.5" fill="none" stroke="#000" stroke-width="0.8" />
<polyline points="423.0,660.0 423.5,732.0" fill="none" stroke="#000" stroke-width="0.8" />
<path d="M408,712 Q414,706 421,712 L421,725" fill="none" stroke="#000" stroke-width="0.8" />
<path d="M373.2,674.5 L424.5,647.8 Q428.5,650 428.7,658 L382.2,687.2 L377,691.7 L373.2,690.2 Z" fill="#1c1c1c" stroke="#000" stroke-width="1.6" />
<circle cx="421.2" cy="643.9" r="5.2" fill="#000"/>
<g stroke="#000" stroke-width="0.8" fill="none">
<line x1="376.0" y1="680.6" x2="426.0" y2="652.9"/>
<line x1="456.0" y1="632.2" x2="502.0" y2="607.9"/>
<line x1="376.0" y1="683.6" x2="426.0" y2="655.2"/>
<line x1="456.0" y1="635.7" x2="502.0" y2="611.1"/>
<line x1="376.0" y1="686.6" x2="426.0" y2="657.6"/>
<line x1="456.0" y1="639.2" x2="502.0" y2="614.4"/>
</g>
<path d="M528.6,483 C527,478 531,472 536,467 C541,461 548,457 556,454.5 C561,453 564,457 563,461 C566,464 566,470 564.5,474 C572,478 580,488 585,502 C588,509 590,513 590,516 C599,520 600,530 594,535 C588,540 578,541 570,540.5 C560,541 545,545 541,548 L540,560 L525,560 L525,549 C527,540 532,534 540,531 C550,528 560,526 566,522 C563,518 558,508 552,500 C548,494 544,490 540,488 C536,489 530,488 528.6,483 Z" fill="#000" stroke="#000" stroke-width="1" />
<polygon points="525.0,553.0 539.5,549.0 588.0,664.0 566.0,654.0" fill="#000" stroke="#000" stroke-width="1" />
<polygon points="533.0,478.0 539.0,471.0 543.0,473.0 538.0,481.0" fill="#3a3a3a" stroke="none" stroke-width="0" />
<ellipse cx="548" cy="468" rx="2.6" ry="3.6" fill="#333" transform="rotate(-20 548 468)"/>
<ellipse cx="555.5" cy="471.5" rx="2.6" ry="3.6" fill="#333" transform="rotate(-20 555.5 471.5)"/>
<ellipse cx="560.5" cy="467.5" rx="2" ry="3" fill="#2a2a2a" transform="rotate(-20 560.5 467.5)"/>
<circle cx="558.7" cy="458.6" r="1.1" fill="#e0131a"/>
<polygon points="566.0,492.0 571.0,488.0 571.0,495.0 567.0,498.0" fill="#222" stroke="none" stroke-width="0" />
<polygon points="695.0,481.7 820.0,408.5 850.7,431.7 850.7,439.5 858.5,448.3 858.3,565.0 826.7,716.7 806.0,731.7 790.0,810.0 646.7,890.0 539.3,828.3 525.0,731.7 498.3,716.7 498.3,679.3 551.7,648.3 606.7,680.0 623.3,670.0 598.3,656.7 599.0,620.0 648.7,591.5 668.5,601.5" fill="#e6e7e8" stroke="none" stroke-width="0" />
<polygon points="599.0,620.0 656.7,653.3 623.3,670.8 598.3,656.7" fill="#d1d3d4" stroke="#000" stroke-width="1.7" />
<polyline points="668.5,601.5 656.7,653.3" fill="none" stroke="#000" stroke-width="1.7" />
<polygon points="525.0,731.7 660.0,806.7 646.7,890.0 539.3,828.3" fill="#3a3a3c" stroke="#000" stroke-width="1.7" />
<polygon points="660.0,806.7 698.3,788.3 826.7,716.7 806.0,731.7 790.0,810.0 646.7,890.0" fill="#3a3a3c" stroke="#000" stroke-width="1.7" />
<polygon points="661.7,771.7 698.3,788.3 660.0,806.7" fill="#3a3a3c" stroke="#000" stroke-width="1.7" />
<polygon points="720.7,506.0 730.0,521.7 733.3,632.5 698.3,788.3 661.7,771.7" fill="#58595b" stroke="#000" stroke-width="1.7" />
<polygon points="730.0,521.7 855.5,449.5 858.3,565.0 733.3,632.5" fill="#58595b" stroke="#000" stroke-width="1.7" />
<polygon points="733.3,632.5 858.3,565.0 826.7,716.7 698.3,788.3" fill="#58595b" stroke="#000" stroke-width="1.7" />
<polygon points="720.7,506.0 850.7,431.7 850.7,439.5 858.5,448.3 730.0,521.7" fill="#58595b" stroke="#000" stroke-width="1.7" />
<polyline points="722.0,514.3 852.0,441.5" fill="none" stroke="#000" stroke-width="1.7" />
<polyline points="695.0,481.7 720.7,506.0 850.7,431.7" fill="none" stroke="#000" stroke-width="1.7" />
<polyline points="501.7,681.7 636.7,755.0 656.7,653.3" fill="none" stroke="#000" stroke-width="1.7" />
<polyline points="636.7,755.0 661.7,771.7 660.0,806.7" fill="none" stroke="#000" stroke-width="1.7" />
<polyline points="525.0,731.7 660.0,806.7" fill="none" stroke="#000" stroke-width="3.5" />
<polygon points="695.0,481.7 820.0,408.5 850.7,431.7 850.7,439.5 858.5,448.3 858.3,565.0 826.7,716.7 806.0,731.7 790.0,810.0 646.7,890.0 539.3,828.3 525.0,731.7 498.3,716.7 498.3,679.3 551.7,648.3 606.7,680.0 623.3,670.0 598.3,656.7 599.0,620.0 648.7,591.5 668.5,601.5" fill="none" stroke="#000" stroke-width="5.5" />
<rect x="513.8" y="436" width="93.3" height="120.4" rx="17" fill="none" stroke="#fbc926" stroke-width="5"/>
</g>
<defs>
<linearGradient id="cylg" x1="0" y1="0" x2="1" y2="0">
<stop offset="0" stop-color="#6e060e"/><stop offset="0.12" stop-color="#7e0a14"/><stop offset="0.42" stop-color="#b01422"/><stop offset="0.62" stop-color="#e61b25"/><stop offset="0.78" stop-color="#ea1c24"/><stop offset="1" stop-color="#c0202c"/>
</linearGradient>
<radialGradient id="domeg" gradientUnits="userSpaceOnUse" cx="222" cy="708" r="175">
<stop offset="0" stop-color="#ee1c25"/><stop offset="0.25" stop-color="#d91a25"/><stop offset="0.6" stop-color="#b5141f"/><stop offset="1" stop-color="#8e0c16"/>
</radialGradient>
<linearGradient id="cabg" x1="0" y1="0" x2="1" y2="0">
<stop offset="0" stop-color="#77787b"/><stop offset="0.45" stop-color="#a7a9ac"/><stop offset="1" stop-color="#808285"/>
</linearGradient>
<linearGradient id="cong" x1="0" y1="0" x2="1" y2="0">
<stop offset="0" stop-color="#b1b3b6"/><stop offset="0.12" stop-color="#e9eaeb"/><stop offset="0.5" stop-color="#bcbec0"/><stop offset="1" stop-color="#a1a3a6"/>
</linearGradient>
<clipPath id="cylclip"><path d="M40.6,1053.7 L40.6,735.5 A130.9,131 0 0 1 302.4,735.5 L302.4,1053.7 A130.9,78 0 0 1 40.6,1053.7 Z"/></clipPath>
</defs>
<g id="loadcell">
<polyline points="88.8,1340.0 88.8,1365.8 233.2,1448.6 478.0,1307.5" fill="none" stroke="#fbc926" stroke-width="5.2" stroke-linejoin="miter" stroke-linecap="butt"/>
<polyline points="125.0,1358.0 125.0,1386.0" fill="none" stroke="#fbc926" stroke-width="5.2" stroke-linecap="butt"/>
<path d="M79.5,1168.0 L79.5,1340.0 Q93.5,1348.0 107.5,1340.0 L107.5,1168.0 Z" fill="url(#cabg)" stroke="#000" stroke-width="1.5" />
<path d="M80.5,1174.0 Q93.5,1177.0 106.5,1174.0" fill="none" stroke="#c7c8ca" stroke-width="0.9" />
<path d="M80.5,1178.1 Q93.5,1181.1 106.5,1178.1" fill="none" stroke="#c7c8ca" stroke-width="0.9" />
<path d="M80.5,1182.2 Q93.5,1185.2 106.5,1182.2" fill="none" stroke="#c7c8ca" stroke-width="0.9" />
<path d="M80.5,1186.3 Q93.5,1189.3 106.5,1186.3" fill="none" stroke="#c7c8ca" stroke-width="0.9" />
<path d="M80.5,1190.4 Q93.5,1193.4 106.5,1190.4" fill="none" stroke="#c7c8ca" stroke-width="0.9" />
<path d="M80.5,1194.5 Q93.5,1197.5 106.5,1194.5" fill="none" stroke="#c7c8ca" stroke-width="0.9" />
<path d="M80.5,1198.6 Q93.5,1201.6 106.5,1198.6" fill="none" stroke="#c7c8ca" stroke-width="0.9" />
<path d="M80.5,1202.7 Q93.5,1205.7 106.5,1202.7" fill="none" stroke="#c7c8ca" stroke-width="0.9" />
<path d="M80.5,1206.8 Q93.5,1209.8 106.5,1206.8" fill="none" stroke="#c7c8ca" stroke-width="0.9" />
<path d="M80.5,1210.9 Q93.5,1213.9 106.5,1210.9" fill="none" stroke="#c7c8ca" stroke-width="0.9" />
<path d="M80.5,1215.0 Q93.5,1218.0 106.5,1215.0" fill="none" stroke="#c7c8ca" stroke-width="0.9" />
<path d="M80.5,1219.1 Q93.5,1222.1 106.5,1219.1" fill="none" stroke="#c7c8ca" stroke-width="0.9" />
<path d="M80.5,1223.2 Q93.5,1226.2 106.5,1223.2" fill="none" stroke="#c7c8ca" stroke-width="0.9" />
<path d="M80.5,1227.3 Q93.5,1230.3 106.5,1227.3" fill="none" stroke="#c7c8ca" stroke-width="0.9" />
<path d="M80.5,1231.4 Q93.5,1234.4 106.5,1231.4" fill="none" stroke="#c7c8ca" stroke-width="0.9" />
<path d="M80.5,1235.5 Q93.5,1238.5 106.5,1235.5" fill="none" stroke="#c7c8ca" stroke-width="0.9" />
<path d="M80.5,1239.6 Q93.5,1242.6 106.5,1239.6" fill="none" stroke="#c7c8ca" stroke-width="0.9" />
<path d="M80.5,1243.7 Q93.5,1246.7 106.5,1243.7" fill="none" stroke="#c7c8ca" stroke-width="0.9" />
<path d="M80.5,1247.8 Q93.5,1250.8 106.5,1247.8" fill="none" stroke="#c7c8ca" stroke-width="0.9" />
<path d="M80.5,1251.9 Q93.5,1254.9 106.5,1251.9" fill="none" stroke="#c7c8ca" stroke-width="0.9" />
<path d="M80.5,1256.0 Q93.5,1259.0 106.5,1256.0" fill="none" stroke="#c7c8ca" stroke-width="0.9" />
<path d="M80.5,1260.1 Q93.5,1263.1 106.5,1260.1" fill="none" stroke="#c7c8ca" stroke-width="0.9" />
<path d="M80.5,1264.2 Q93.5,1267.2 106.5,1264.2" fill="none" stroke="#c7c8ca" stroke-width="0.9" />
<path d="M80.5,1268.3 Q93.5,1271.3 106.5,1268.3" fill="none" stroke="#c7c8ca" stroke-width="0.9" />
<path d="M80.5,1272.4 Q93.5,1275.4 106.5,1272.4" fill="none" stroke="#c7c8ca" stroke-width="0.9" />
<path d="M80.5,1276.5 Q93.5,1279.5 106.5,1276.5" fill="none" stroke="#c7c8ca" stroke-width="0.9" />
<path d="M80.5,1280.6 Q93.5,1283.6 106.5,1280.6" fill="none" stroke="#c7c8ca" stroke-width="0.9" />
<path d="M80.5,1284.7 Q93.5,1287.7 106.5,1284.7" fill="none" stroke="#c7c8ca" stroke-width="0.9" />
<path d="M80.5,1288.8 Q93.5,1291.8 106.5,1288.8" fill="none" stroke="#c7c8ca" stroke-width="0.9" />
<path d="M80.5,1292.9 Q93.5,1295.9 106.5,1292.9" fill="none" stroke="#c7c8ca" stroke-width="0.9" />
<path d="M80.5,1297.0 Q93.5,1300.0 106.5,1297.0" fill="none" stroke="#c7c8ca" stroke-width="0.9" />
<path d="M80.5,1301.1 Q93.5,1304.1 106.5,1301.1" fill="none" stroke="#c7c8ca" stroke-width="0.9" />
<path d="M80.5,1305.2 Q93.5,1308.2 106.5,1305.2" fill="none" stroke="#c7c8ca" stroke-width="0.9" />
<path d="M80.5,1309.3 Q93.5,1312.3 106.5,1309.3" fill="none" stroke="#c7c8ca" stroke-width="0.9" />
<path d="M80.5,1313.4 Q93.5,1316.4 106.5,1313.4" fill="none" stroke="#c7c8ca" stroke-width="0.9" />
<path d="M80.5,1317.5 Q93.5,1320.5 106.5,1317.5" fill="none" stroke="#c7c8ca" stroke-width="0.9" />
<path d="M80.5,1321.6 Q93.5,1324.6 106.5,1321.6" fill="none" stroke="#c7c8ca" stroke-width="0.9" />
<path d="M80.5,1325.7 Q93.5,1328.7 106.5,1325.7" fill="none" stroke="#c7c8ca" stroke-width="0.9" />
<path d="M80.5,1329.8 Q93.5,1332.8 106.5,1329.8" fill="none" stroke="#c7c8ca" stroke-width="0.9" />
<path d="M80.5,1333.9 Q93.5,1336.9 106.5,1333.9" fill="none" stroke="#c7c8ca" stroke-width="0.9" />
<path d="M80.5,1338.0 Q93.5,1341.0 106.5,1338.0" fill="none" stroke="#c7c8ca" stroke-width="0.9" />
<path d="M75.5,1147.0 L79.5,1168.0 Q93.5,1173.0 107.5,1168.0 L108.5,1147.0 Q92.0,1153.0 75.5,1147.0 Z" fill="#6d6e71" stroke="#000" stroke-width="1.5" />
<path d="M75.5,1105.0 L75.5,1147.0 Q92.0,1153.0 108.5,1147.0 L108.5,1105.0 Z" fill="url(#cong)" stroke="#000" stroke-width="1.5" />
<path d="M113.0,1187.0 L113.0,1358.0 Q127.5,1366.0 142.0,1358.0 L142.0,1187.0 Z" fill="url(#cabg)" stroke="#000" stroke-width="1.5" />
<path d="M114.0,1193.0 Q127.5,1196.0 141.0,1193.0" fill="none" stroke="#c7c8ca" stroke-width="0.9" />
<path d="M114.0,1197.1 Q127.5,1200.1 141.0,1197.1" fill="none" stroke="#c7c8ca" stroke-width="0.9" />
<path d="M114.0,1201.2 Q127.5,1204.2 141.0,1201.2" fill="none" stroke="#c7c8ca" stroke-width="0.9" />
<path d="M114.0,1205.3 Q127.5,1208.3 141.0,1205.3" fill="none" stroke="#c7c8ca" stroke-width="0.9" />
<path d="M114.0,1209.4 Q127.5,1212.4 141.0,1209.4" fill="none" stroke="#c7c8ca" stroke-width="0.9" />
<path d="M114.0,1213.5 Q127.5,1216.5 141.0,1213.5" fill="none" stroke="#c7c8ca" stroke-width="0.9" />
<path d="M114.0,1217.6 Q127.5,1220.6 141.0,1217.6" fill="none" stroke="#c7c8ca" stroke-width="0.9" />
<path d="M114.0,1221.7 Q127.5,1224.7 141.0,1221.7" fill="none" stroke="#c7c8ca" stroke-width="0.9" />
<path d="M114.0,1225.8 Q127.5,1228.8 141.0,1225.8" fill="none" stroke="#c7c8ca" stroke-width="0.9" />
<path d="M114.0,1229.9 Q127.5,1232.9 141.0,1229.9" fill="none" stroke="#c7c8ca" stroke-width="0.9" />
<path d="M114.0,1234.0 Q127.5,1237.0 141.0,1234.0" fill="none" stroke="#c7c8ca" stroke-width="0.9" />
<path d="M114.0,1238.1 Q127.5,1241.1 141.0,1238.1" fill="none" stroke="#c7c8ca" stroke-width="0.9" />
<path d="M114.0,1242.2 Q127.5,1245.2 141.0,1242.2" fill="none" stroke="#c7c8ca" stroke-width="0.9" />
<path d="M114.0,1246.3 Q127.5,1249.3 141.0,1246.3" fill="none" stroke="#c7c8ca" stroke-width="0.9" />
<path d="M114.0,1250.4 Q127.5,1253.4 141.0,1250.4" fill="none" stroke="#c7c8ca" stroke-width="0.9" />
<path d="M114.0,1254.5 Q127.5,1257.5 141.0,1254.5" fill="none" stroke="#c7c8ca" stroke-width="0.9" />
<path d="M114.0,1258.6 Q127.5,1261.6 141.0,1258.6" fill="none" stroke="#c7c8ca" stroke-width="0.9" />
<path d="M114.0,1262.7 Q127.5,1265.7 141.0,1262.7" fill="none" stroke="#c7c8ca" stroke-width="0.9" />
<path d="M114.0,1266.8 Q127.5,1269.8 141.0,1266.8" fill="none" stroke="#c7c8ca" stroke-width="0.9" />
<path d="M114.0,1270.9 Q127.5,1273.9 141.0,1270.9" fill="none" stroke="#c7c8ca" stroke-width="0.9" />
<path d="M114.0,1275.0 Q127.5,1278.0 141.0,1275.0" fill="none" stroke="#c7c8ca" stroke-width="0.9" />
<path d="M114.0,1279.1 Q127.5,1282.1 141.0,1279.1" fill="none" stroke="#c7c8ca" stroke-width="0.9" />
<path d="M114.0,1283.2 Q127.5,1286.2 141.0,1283.2" fill="none" stroke="#c7c8ca" stroke-width="0.9" />
<path d="M114.0,1287.3 Q127.5,1290.3 141.0,1287.3" fill="none" stroke="#c7c8ca" stroke-width="0.9" />
<path d="M114.0,1291.4 Q127.5,1294.4 141.0,1291.4" fill="none" stroke="#c7c8ca" stroke-width="0.9" />
<path d="M114.0,1295.5 Q127.5,1298.5 141.0,1295.5" fill="none" stroke="#c7c8ca" stroke-width="0.9" />
<path d="M114.0,1299.6 Q127.5,1302.6 141.0,1299.6" fill="none" stroke="#c7c8ca" stroke-width="0.9" />
<path d="M114.0,1303.7 Q127.5,1306.7 141.0,1303.7" fill="none" stroke="#c7c8ca" stroke-width="0.9" />
<path d="M114.0,1307.8 Q127.5,1310.8 141.0,1307.8" fill="none" stroke="#c7c8ca" stroke-width="0.9" />
<path d="M114.0,1311.9 Q127.5,1314.9 141.0,1311.9" fill="none" stroke="#c7c8ca" stroke-width="0.9" />
<path d="M114.0,1316.0 Q127.5,1319.0 141.0,1316.0" fill="none" stroke="#c7c8ca" stroke-width="0.9" />
<path d="M114.0,1320.1 Q127.5,1323.1 141.0,1320.1" fill="none" stroke="#c7c8ca" stroke-width="0.9" />
<path d="M114.0,1324.2 Q127.5,1327.2 141.0,1324.2" fill="none" stroke="#c7c8ca" stroke-width="0.9" />
<path d="M114.0,1328.3 Q127.5,1331.3 141.0,1328.3" fill="none" stroke="#c7c8ca" stroke-width="0.9" />
<path d="M114.0,1332.4 Q127.5,1335.4 141.0,1332.4" fill="none" stroke="#c7c8ca" stroke-width="0.9" />
<path d="M114.0,1336.5 Q127.5,1339.5 141.0,1336.5" fill="none" stroke="#c7c8ca" stroke-width="0.9" />
<path d="M114.0,1340.6 Q127.5,1343.6 141.0,1340.6" fill="none" stroke="#c7c8ca" stroke-width="0.9" />
<path d="M114.0,1344.7 Q127.5,1347.7 141.0,1344.7" fill="none" stroke="#c7c8ca" stroke-width="0.9" />
<path d="M114.0,1348.8 Q127.5,1351.8 141.0,1348.8" fill="none" stroke="#c7c8ca" stroke-width="0.9" />
<path d="M114.0,1352.9 Q127.5,1355.9 141.0,1352.9" fill="none" stroke="#c7c8ca" stroke-width="0.9" />
<path d="M114.0,1357.0 Q127.5,1360.0 141.0,1357.0" fill="none" stroke="#c7c8ca" stroke-width="0.9" />
<path d="M109.0,1165.0 L113.0,1187.0 Q127.5,1192.0 142.0,1187.0 L146.5,1165.0 Q127.8,1171.0 109.0,1165.0 Z" fill="#6d6e71" stroke="#000" stroke-width="1.5" />
<path d="M109.0,1125.0 L109.0,1165.0 Q127.8,1171.0 146.5,1165.0 L146.5,1125.0 Z" fill="url(#cong)" stroke="#000" stroke-width="1.5" />
<polygon points="76.2,1111.2 93.2,1120.8 93.2,1128.8 76.2,1119.8" fill="#a7a9ac" stroke="#000" stroke-width="1.2" />
<polygon points="76.2,1113.8 91.2,1126.8 76.2,1119.2" fill="#77787b" stroke="none" stroke-width="0" />
<polygon points="109.6,1127.0 126.6,1136.6 126.6,1144.5 109.6,1135.5" fill="#a7a9ac" stroke="#000" stroke-width="1.2" />
<polygon points="109.6,1129.5 124.6,1142.5 109.6,1135.0" fill="#77787b" stroke="none" stroke-width="0" />
<path d="M40.6,1053.7 L40.6,735.5 A130.9,131 0 0 1 302.4,735.5 L302.4,1053.7 A130.9,78 0 0 1 40.6,1053.7 Z" fill="url(#cylg)" stroke="none" stroke-width="0" />
<path d="M40.6,737 L40.6,735.5 A130.9,131 0 0 1 302.4,735.5 L302.4,737 A130.9,72 0 0 1 40.6,737 Z" fill="url(#domeg)" stroke="none" stroke-width="0" />
<g clip-path="url(#cylclip)">
<path d="M40.6,737.0 A130.9,72 0 0 0 302.4,737.0" fill="none" stroke="#2a0206" stroke-width="2.6" />
<path d="M40.6,740.2 A130.9,72 0 0 0 302.4,740.2" fill="none" stroke="#e8313a" stroke-width="1.0" opacity="0.55"/>
<path d="M40.6,742.0 A130.9,72 0 0 0 302.4,742.0" fill="none" stroke="#2a0206" stroke-width="0.9" />
<path d="M40.6,774.0 A130.9,72 0 0 0 302.4,774.0" fill="none" stroke="#2a0206" stroke-width="2.6" />
<path d="M40.6,777.2 A130.9,72 0 0 0 302.4,777.2" fill="none" stroke="#e8313a" stroke-width="1.0" opacity="0.55"/>
<path d="M40.6,779.0 A130.9,72 0 0 0 302.4,779.0" fill="none" stroke="#2a0206" stroke-width="0.9" />
<path d="M40.6,809.0 A130.9,72 0 0 0 302.4,809.0" fill="none" stroke="#2a0206" stroke-width="2.6" />
<path d="M40.6,812.2 A130.9,72 0 0 0 302.4,812.2" fill="none" stroke="#e8313a" stroke-width="1.0" opacity="0.55"/>
<path d="M40.6,814.0 A130.9,72 0 0 0 302.4,814.0" fill="none" stroke="#2a0206" stroke-width="0.9" />
<path d="M45.8,991.1 A130.9,72 0 0 0 158.8,1042.7 L158.8,1101.7 Q158.8,1110.7 149.8,1110.0 A130.9,72 0 0 1 45.8,1059.1 Z" fill="#fbc926" stroke="none" stroke-width="0" />
<path d="M45.8,968.7 A130.9,72 0 0 0 150.8,1019.7 Q158.8,1020.3 158.8,1028.3 L158.8,1043.2 A130.9,72 0 0 1 45.8,991.6 Z" fill="#000" stroke="none" stroke-width="0" />
</g>
<text transform="matrix(1.22,0.52,-0.04,1.00,0,0)" x="74.0 85.1 99.3 114.1 129.5" y="957.5 963.9 967.0 966.7 963.6" font-size="21" font-weight="700" fill="#fff" stroke="#fff" stroke-width="0.9">FUTEK</text>
<path d="M40.6,1053.7 L40.6,735.5 A130.9,131 0 0 1 302.4,735.5 L302.4,1053.7 A130.9,78 0 0 1 40.6,1053.7 Z" fill="none" stroke="#000" stroke-width="5.5" />
<ellipse cx="170.6" cy="637" rx="37.6" ry="21.7" fill="#d1d3d4" stroke="#000" stroke-width="1.6"/>
<polygon points="159.5,635.0 164.5,629.5 176.0,629.5 181.5,634.5 176.5,641.0 165.0,641.0" fill="#58595b" stroke="#000" stroke-width="1.3" />
<polygon points="163.0,635.5 166.5,632.5 175.0,632.5 178.5,635.5 175.0,639.0 166.0,639.0" fill="#3a3a3c" stroke="none" stroke-width="0" />
<g transform="translate(266.5,1060.5) rotate(36)">
<ellipse cx="0" cy="0" rx="10.8" ry="17" fill="#8b0a12" stroke="#000" stroke-width="1.8"/>
<ellipse cx="-1.6" cy="-0.8" rx="9" ry="15.6" fill="#e9eaeb" stroke="#000" stroke-width="1"/>
<ellipse cx="1.6" cy="-2.2" rx="5.2" ry="8.2" fill="#1a1a1a" stroke="#000" stroke-width="1"/>
<ellipse cx="2.4" cy="-2.4" rx="2.6" ry="4.6" fill="#6d6e71" stroke="#000" stroke-width="0.9"/>
</g>
</g>
<g id="diagram">
<polygon points="575.0,1426.0 806.0,1292.0 1003.3,1405.0 772.5,1538.5" fill="#f1f1e9" stroke="none" stroke-width="0" />
<polygon points="575.0,1426.0 772.5,1538.5 772.5,1576.0 575.0,1463.0" fill="#e9e8d9" stroke="none" stroke-width="0" />
<polygon points="772.5,1538.5 1003.3,1405.0 1003.3,1442.5 772.5,1576.0" fill="#e6e5d3" stroke="none" stroke-width="0" />
<polyline points="716.0,1149.4 793.0,1107.5" fill="none" stroke="#fbc926" stroke-width="5.2" stroke-linejoin="miter" stroke-linecap="butt"/>
<polyline points="761.3,1060.0 761.3,1124.0" fill="none" stroke="#fbc926" stroke-width="5.2" stroke-linejoin="miter" stroke-linecap="butt"/>
<polyline points="704.0,1215.0 704.0,1250.7 826.7,1180.0 826.7,1165.0" fill="none" stroke="#fbc926" stroke-width="5.2" stroke-linejoin="miter" stroke-linecap="butt"/>
<path d="M679.2,1215 L679.2,1392 Q679.2,1401 671,1398.5 L641,1381.5" fill="none" stroke="#1175bf" stroke-width="5.2" stroke-linecap="round"/>
<circle cx="763.4" cy="1231.0" r="2.4" fill="#fbc926"/>
<circle cx="763.4" cy="1241.5" r="2.4" fill="#fbc926"/>
<circle cx="763.4" cy="1252.0" r="2.4" fill="#fbc926"/>
<circle cx="763.4" cy="1262.5" r="2.4" fill="#fbc926"/>
<circle cx="763.4" cy="1273.0" r="2.4" fill="#fbc926"/>
<circle cx="763.4" cy="1283.5" r="2.4" fill="#fbc926"/>
<circle cx="763.4" cy="1294.0" r="2.4" fill="#fbc926"/>
<circle cx="763.4" cy="1304.5" r="2.4" fill="#fbc926"/>
<defs><linearGradient id="ddtop" x1="0" y1="0" x2="0.6" y2="1"><stop offset="0" stop-color="#4a4b4d"/><stop offset="0.45" stop-color="#6d6e71"/><stop offset="1" stop-color="#626366"/></linearGradient>
<linearGradient id="hhg" x1="0" y1="0" x2="1" y2="0"><stop offset="0" stop-color="#2e2e30"/><stop offset="0.3" stop-color="#6a6b6e"/><stop offset="0.6" stop-color="#4a4b4d"/><stop offset="1" stop-color="#303032"/></linearGradient></defs>
<path d="M661.0,1112.6 L617.4,1137.5 L617.4,1181.5 L686.8,1226.5 L735.0,1199.4 L734.6,1150.6 L728.9,1148.7 L724.9,1150.7 Z" fill="#000" stroke="#000" stroke-width="6.6" />
<polygon points="625.3,1143.3 665.3,1120.0 725.3,1154.0 687.3,1177.3" fill="url(#ddtop)" stroke="none" stroke-width="0" />
<polygon points="621.3,1146.0 685.3,1181.0 685.3,1224.0 621.3,1180.0" fill="#3a3a3c" stroke="none" stroke-width="0" />
<polygon points="621.3,1160.7 685.3,1196.0 685.3,1201.5 621.3,1165.5" fill="#d1d3d4" stroke="none" stroke-width="0" />
<polygon points="621.3,1157.5 685.3,1193.0 685.3,1196.0 621.3,1160.7" fill="#1a1a1a" stroke="none" stroke-width="0" />
<polygon points="688.5,1179.5 731.3,1155.5 731.3,1200.5 688.5,1224.5" fill="#3a3a3c" stroke="none" stroke-width="0" />
<polygon points="696.7,1178.7 724.7,1162.7 724.7,1178.7 696.7,1194.7" fill="#000" stroke="none" stroke-width="0" />
<line x1="698.6" y1="1200.6" x2="703.2" y2="1198.0" stroke="#fbc926" stroke-width="4" stroke-linecap="round"/>
<line x1="698.6" y1="1206.6" x2="703.2" y2="1204.0" stroke="#fbc926" stroke-width="4" stroke-linecap="round"/>
<line x1="698.6" y1="1212.2" x2="703.2" y2="1209.6" stroke="#fbc926" stroke-width="4" stroke-linecap="round"/>
<line x1="708.6" y1="1194.6" x2="713.2" y2="1192.0" stroke="#fbc926" stroke-width="4" stroke-linecap="round"/>
<line x1="708.6" y1="1200.6" x2="713.2" y2="1198.0" stroke="#fbc926" stroke-width="4" stroke-linecap="round"/>
<line x1="708.6" y1="1206.2" x2="713.2" y2="1203.6" stroke="#fbc926" stroke-width="4" stroke-linecap="round"/>
<line x1="718.7" y1="1188.2" x2="723.3" y2="1185.6" stroke="#fbc926" stroke-width="4" stroke-linecap="round"/>
<line x1="718.7" y1="1194.2" x2="723.3" y2="1191.6" stroke="#fbc926" stroke-width="4" stroke-linecap="round"/>
<line x1="718.7" y1="1199.8" x2="723.3" y2="1197.2" stroke="#fbc926" stroke-width="4" stroke-linecap="round"/>
<polyline points="478.0,1506.0 478.0,1223.0 984.5,932.5 984.5,1303.5 876.0,1366.0" fill="none" stroke="#fbc926" stroke-width="5.2" stroke-linejoin="round" stroke-linecap="butt"/>
<path d="M834,1059.5 Q838.5,1057 843,1059.5 L853,1065.5 Q857.5,1068.5 857.5,1074 L857.5,1141.5 Q857.5,1146.5 853,1149 L820.5,1168 Q815,1171 809.5,1168 L797,1161 Q792,1158 792,1152.5 L792,1088 Q792,1083.5 796,1081.5 Z" fill="#000" stroke="#000" stroke-width="1" />
<path d="M796.5,1089 L796.5,1157 Q812,1168 817,1165.5 L852,1145 L852,1076 L818,1096.5 Q812,1099 796.5,1089 Z" fill="url(#hhg)" stroke="none" stroke-width="0" />
<path d="M797.5,1086.5 L837.5,1063 Q842,1062.9 851.5,1070.5 L851.5,1074 L818,1094 Q812,1096.5 797.5,1086.5 Z" fill="#5e5f62" stroke="none" stroke-width="0" />
<ellipse cx="810.0" cy="1086.5" rx="4.6" ry="5.6" fill="#000"/>
<ellipse cx="820.2" cy="1080.8" rx="4.6" ry="5.6" fill="#000"/>
<ellipse cx="830.5" cy="1075.0" rx="4.6" ry="5.6" fill="#000"/>
<ellipse cx="841.0" cy="1069.3" rx="4.6" ry="5.6" fill="#000"/>
<polygon points="821.0,1108.0 847.5,1092.5 847.5,1110.5 821.0,1126.0" fill="#000" stroke="none" stroke-width="0" />
<clipPath id="kpc"><rect x="0" y="0" width="24" height="26"/></clipPath>
<g transform="matrix(1,-0.54,0,0.885,824,1131)" clip-path="url(#kpc)">
<rect x="0" y="0" width="24" height="26" fill="#fbc926"/>
<g stroke="#3a3b3d" stroke-width="2.6" fill="none" stroke-linecap="butt">
<polygon points="12,-1 25,13 12,27 -1,13"/>
<line x1="5.5" y1="6" x2="18.5" y2="20"/><line x1="18.5" y1="6" x2="5.5" y2="20"/>
</g>
<circle cx="12" cy="13" r="4.4" fill="#fbc926" stroke="#3a3b3d" stroke-width="2"/>
</g>
<path d="M988,1007.7 Q992,1007 1001,1015 L1001,1051.7 L994.7,1056 L994.7,1062.3 L982,1069.3 L973,1063 L973,1060 L967.2,1056.5 L967,1021.7 Q967,1019 970,1017.5 Z" fill="#000" stroke="#000" stroke-width="1.5" />
<polygon points="973.0,1023.7 988.0,1013.3 992.5,1015.3 977.5,1024.6 977.5,1057.0 973.0,1054.3" fill="#c9202e" stroke="none" stroke-width="0" />
<polygon points="979.0,1024.5 994.3,1016.3 994.3,1048.5 979.0,1058.0" fill="#be1e2d" stroke="none" stroke-width="0" />
<circle cx="982.3" cy="1027.7" r="0.95" fill="#000"/>
<circle cx="987.0" cy="1025.0" r="0.95" fill="#000"/>
<circle cx="991.7" cy="1022.3" r="0.95" fill="#000"/>
<polygon points="978.7,1060.3 988.7,1054.8 988.7,1057.7 982.0,1062.9" fill="#bcbec0" stroke="none" stroke-width="0" />
<path d="M485.7,1339.5 Q489,1338 506,1349.7 L506,1354 L502.5,1358.5 L502.5,1374.5 L506,1376.5 L506,1386.3 L500.3,1395 L473,1411.7 Q470,1412.5 457.3,1402.5 L457.3,1359.7 Q457.5,1356 461,1354 Z" fill="#000" stroke="#000" stroke-width="2" />
<polygon points="463.7,1359.7 486.7,1345.3 493.0,1348.3 470.6,1362.3 470.6,1403.0 463.7,1399.0" fill="#d71920" stroke="none" stroke-width="0" />
<path d="M471.8,1366.5 Q471.8,1363.5 474.5,1362 L494.3,1350.7 L499.7,1352.3 L496.7,1355.7 L497,1380.3 L498,1386.5 L495.7,1393 L473.2,1405.7 Z" fill="#8b0304" stroke="none" stroke-width="0" />
<g transform="matrix(1,-0.56,0,1,478.3,1375.8)">
<path d="M3.6,0.2 L13,0.2 L13,3.3 L7.2,3.3 L7.2,4.6 L11.6,4.6 L11.6,7.4 L7.2,7.4 L7.2,11.6 L3.6,11.6 Z" fill="#fff"/>
<circle cx="1.4" cy="1.8" r="2.1" fill="#fff"/>
</g>
<polyline points="478.0,1330.0 478.0,1352.5" fill="none" stroke="#fbc926" stroke-width="5.2" stroke-linejoin="miter" stroke-linecap="butt"/>
<path d="M615,1361.5 L636.5,1348.5 L650.5,1356.5 L650.5,1390 L640,1396.5 L640,1421 Q634,1425 628.5,1421 L628.5,1402.5 L615,1394.5 Z" fill="#000" stroke="#000" stroke-width="1.5" />
<polygon points="618.0,1363.0 636.5,1352.0 631.0,1361.0 631.0,1400.0 618.0,1392.5" fill="#6d6e71" stroke="none" stroke-width="0" />
<polygon points="636.5,1352.0 647.5,1358.5 632.0,1367.0 631.0,1361.0" fill="#808285" stroke="none" stroke-width="0" />
<polygon points="632.5,1367.5 647.5,1359.5 647.5,1388.5 632.5,1397.5" fill="#bcbec0" stroke="#000" stroke-width="1" />
<ellipse cx="640" cy="1381" rx="4.6" ry="6.8" fill="#1175bf" stroke="#0d4f8b" stroke-width="1.2"/>
<path d="M671,1398.5 L641,1381.5" fill="none" stroke="#1175bf" stroke-width="5.2" stroke-linecap="round"/>
<path d="M618,1268.3 L645.7,1268.3 Q658.2,1268.3 658.2,1280.8 L658.2,1308 Q658.2,1320.5 645.7,1320.5 L639.7,1320.5 L631.7,1333.7 L623.7,1320.5 L618,1320.5 Q605.5,1320.5 605.5,1308 L605.5,1280.8 Q605.5,1268.3 618,1268.3 Z" fill="#fff" stroke="#1175bf" stroke-width="5" />
<g stroke="#1175bf" stroke-width="5" stroke-linecap="butt">
<line x1="623" y1="1285.5" x2="641" y2="1285.5"/><line x1="616" y1="1294.5" x2="647.3" y2="1294.5"/><line x1="623" y1="1303.5" x2="641" y2="1303.5"/>
</g>
<path d="M737.9,1335.1 L830.0,1283.1 L850.1,1356.6 L911.0,1391.3 L911.1,1397.7 L820.3,1451.0 L757.0,1414.7 Z" fill="#000" stroke="#000" stroke-width="6.4" />
<polygon points="741.7,1336.7 827.5,1287.5 847.5,1360.8 760.8,1408.3" fill="#d1d3d4" stroke="none" stroke-width="0" />
<polygon points="750.0,1339.2 823.3,1298.3 839.2,1355.8 764.2,1397.5" fill="#000" stroke="none" stroke-width="0" />
<polygon points="760.8,1410.5 848.3,1362.2 907.5,1394.2 820.0,1446.7" fill="#d1d3d4" stroke="none" stroke-width="0" />
<polygon points="770.8,1410.8 848.3,1367.5 878.3,1384.2 801.7,1427.5" fill="none" stroke="#77787b" stroke-width="1.5" />
<polygon points="835.0,1415.8 862.5,1400.8 875.0,1407.5 847.5,1422.5" fill="none" stroke="#77787b" stroke-width="1.5" />
<text transform="matrix(0.95,-0.535,-0.2,1,773.3,1367.8)" font-size="13.5" font-weight="700" fill="#fcc520" stroke="#fcc520" stroke-width="1.2" textLength="56.5" lengthAdjust="spacingAndGlyphs">SENSIT</text>
<path d="M766,1370 l2.5,-6 q1,-2.5 3.5,-3 l2,-0.8 l-1.8,5.5 l-2,0.8 l-2,5.5 q-1,2.5 -3.5,3 l-2,0.5 l2,-5.5 Z" fill="none" stroke="#c7c8ca" stroke-width="1.2" />
<g fill="none" stroke="#9c1f15" stroke-width="1.8" stroke-linejoin="miter" stroke-linecap="butt">
<polyline points="1001,1049 1023.75,1062.9 1174,1062.9"/>
<polyline points="858,1118.5 1023.75,1214.9 1174,1214.9"/>
<polyline points="737,1201.5 1023.75,1367.1 1174,1367.1"/>
<polyline points="866,1428 1023.75,1519.1 1174,1519.1"/>
<polyline points="503,1390 1023.75,1692.9 1174,1692.9"/>
</g>
<text x="1028.2" y="1050.0" font-size="17.0" fill="#9c1f15" text-anchor="start" textLength="85.0" lengthAdjust="spacingAndGlyphs">USB Series</text>
<text x="1028.2" y="1202.5" font-size="17.0" fill="#9c1f15" text-anchor="start" textLength="139.5" lengthAdjust="spacingAndGlyphs">Handheld Display</text>
<text x="1028.2" y="1241.2" font-size="14.0" fill="#9c1f15" text-anchor="start" textLength="51.5" lengthAdjust="spacingAndGlyphs">IHH500</text>
<text x="1028.2" y="1354.5" font-size="17.0" fill="#9c1f15" text-anchor="start" textLength="114.5" lengthAdjust="spacingAndGlyphs">Digital Display</text>
<text x="1028.2" y="1390.7" font-size="14.0" fill="#9c1f15" text-anchor="start" textLength="52.5" lengthAdjust="spacingAndGlyphs">IPM650</text>
<text x="1028.2" y="1506.5" font-size="17.0" fill="#9c1f15" text-anchor="start" textLength="80.5" lengthAdjust="spacingAndGlyphs">Computer</text>
<text x="1028.2" y="1680.0" font-size="17.0" fill="#9c1f15" text-anchor="start" textLength="72.0" lengthAdjust="spacingAndGlyphs">Amplifier</text>
<text x="1028.2" y="1716.2" font-size="14.0" fill="#9c1f15" text-anchor="start" textLength="71.5" lengthAdjust="spacingAndGlyphs">IAA Series</text>
<path d="M365,890.3 L531.8,890.3 Q547.8,890.3 547.8,906.3 L547.8,985.3 Q547.8,1001.3 531.8,1001.3 L365,1001.3 Q349,1001.3 349,985.3 L349,957.5 L334.5,948 L349,938.5 L349,906.3 Q349,890.3 365,890.3 Z" fill="#fff" stroke="#9c1f15" stroke-width="5.5" stroke-linejoin="miter"/>
<text x="448.3" y="934.0" font-size="17.0" fill="#9c1f15" text-anchor="middle" textLength="159.0" lengthAdjust="spacingAndGlyphs">Multi-Axis Load Cell</text>
<text x="448.5" y="952.0" font-size="17.0" fill="#9c1f15" text-anchor="middle" textLength="137.0" lengthAdjust="spacingAndGlyphs">(Gear Shift Knob)</text>
<text x="448.5" y="973.0" font-size="14.0" fill="#9c1f15" text-anchor="middle" textLength="61.0" lengthAdjust="spacingAndGlyphs">MAU300</text>
<rect x="382.8" y="1505.6" width="191.6" height="78.8" rx="21.5" fill="#fff" stroke="#9c1f15" stroke-width="5.5"/>
<text x="478.5" y="1540.0" font-size="17.0" fill="#9c1f15" text-anchor="middle" textLength="30.0" lengthAdjust="spacingAndGlyphs">PLC</text>
<text x="478.5" y="1561.0" font-size="17.0" fill="#9c1f15" text-anchor="middle" textLength="130.5" lengthAdjust="spacingAndGlyphs">Data Acquisition</text>
</g>
</svg>
</body></html>
